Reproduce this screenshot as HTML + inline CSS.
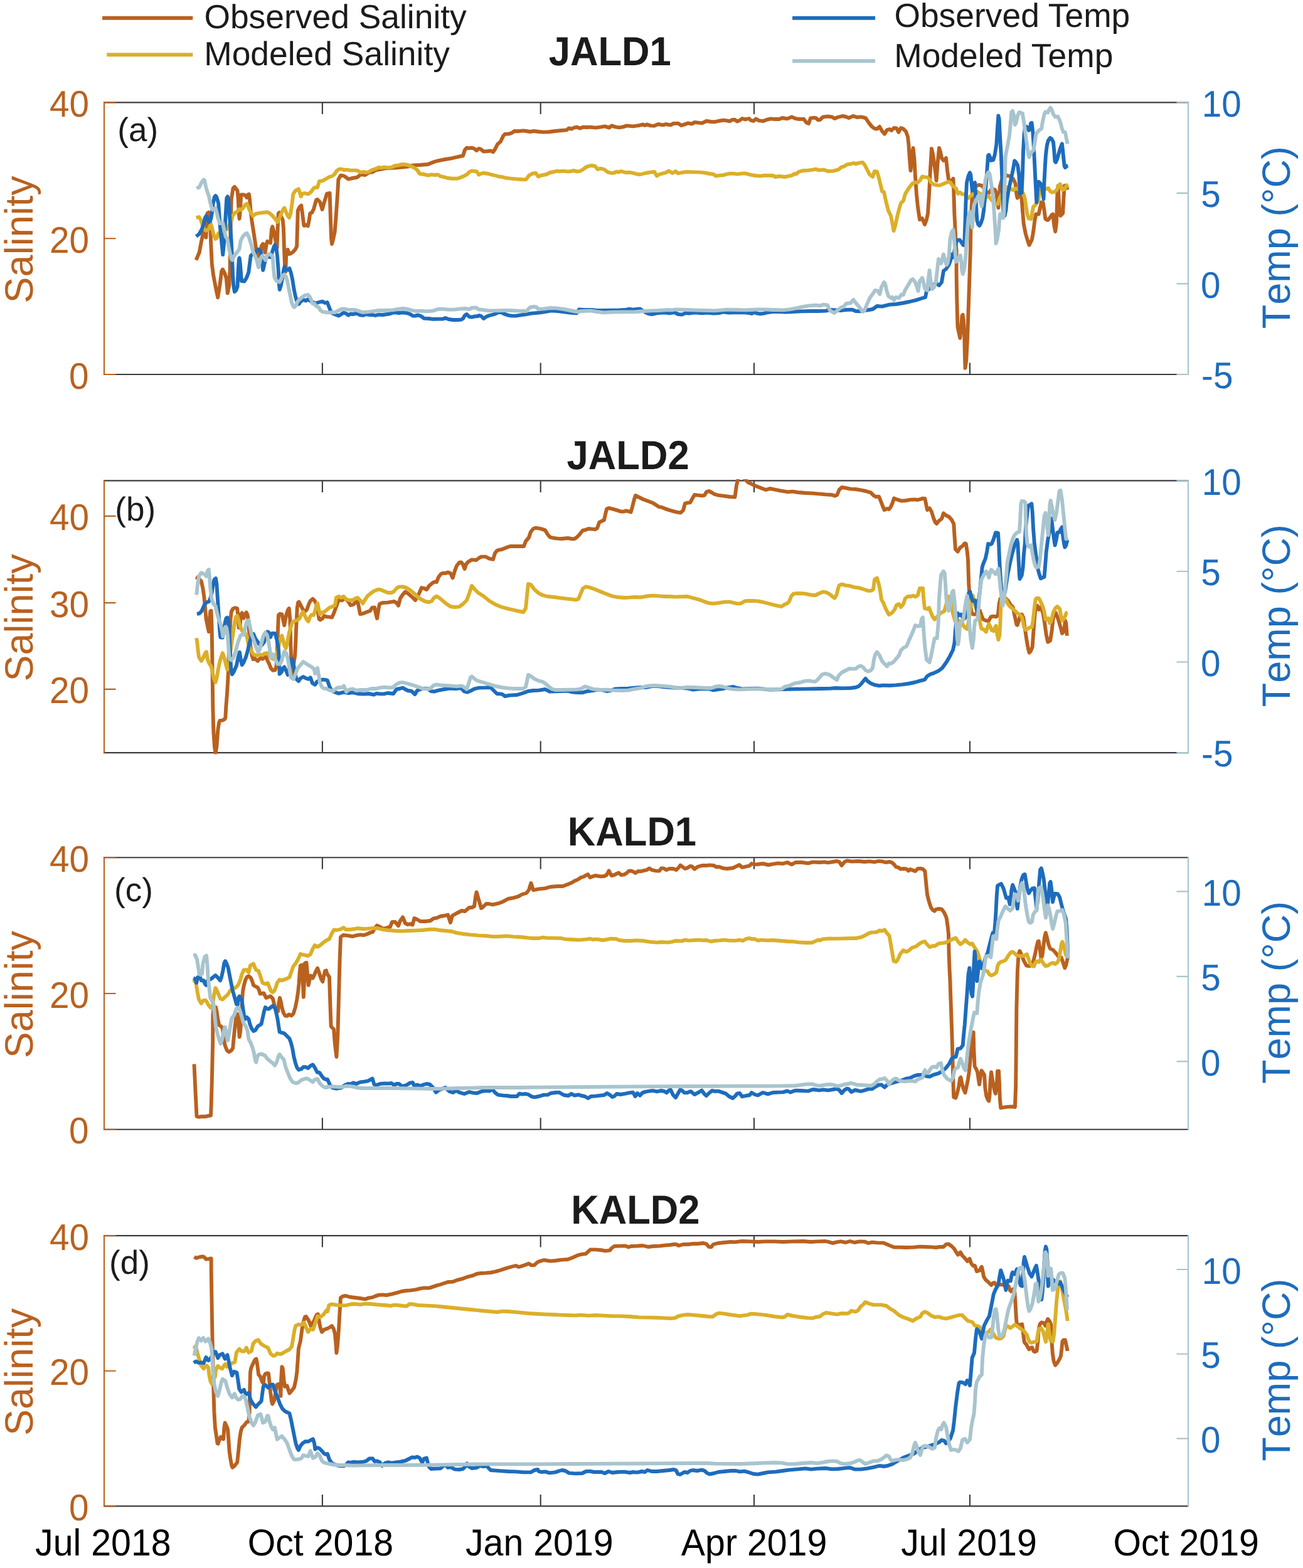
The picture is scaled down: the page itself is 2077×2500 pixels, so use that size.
<!DOCTYPE html>
<html lang="en"><head><meta charset="utf-8"><title>Observed and modeled salinity and temperature</title>
<style>html,body{margin:0;padding:0;background:#fff}svg{display:block}text{font-family:"Liberation Sans",Arial,Helvetica,sans-serif;font-variant-ligatures:none;text-rendering:geometricPrecision}.c{fill:none;stroke-width:5.9;stroke-linejoin:round;stroke-linecap:butt}.ax{fill:none;stroke-width:2.1;stroke-linecap:square}.tk{fill:none;stroke-width:2.1;stroke-linecap:butt}.lg{font-size:53.4px;font-weight:normal;font-kerning:normal}.tt{font-size:61.6px;font-weight:bold;font-kerning:none}.pl{font-size:53.0px;font-weight:normal;font-kerning:none}.tl{font-size:56.7px;font-weight:normal;font-kerning:none}.xl{font-size:57.3px;font-weight:normal;font-kerning:none}.yl{font-size:63.0px;font-weight:normal;font-kerning:none}</style></head><body>
<svg width="2077" height="2500" viewBox="0 0 2077 2500">
<rect width="2077" height="2500" fill="#fff"/>
<line x1="163.1" y1="28.7" x2="307.3" y2="28.7" stroke="#B9611F" stroke-width="5.9"/>
<line x1="170.2" y1="87.2" x2="307.3" y2="87.2" stroke="#DBAF28" stroke-width="5.9"/>
<line x1="1263.1" y1="28.7" x2="1395.0" y2="28.7" stroke="#1D6CBD" stroke-width="5.9"/>
<line x1="1263.1" y1="97.2" x2="1395.0" y2="97.2" stroke="#A8C4CE" stroke-width="5.9"/>
<g id="panel1">
<path class="ax" stroke="#3C3C3E" d="M166.0 163.4H1894.0 M166.0 597.0H1894.0"/>
<path class="tk" stroke="#3C3C3E" d="M513.9 163.4v18.5 M513.9 597.0v-18.5 M861.7 163.4v18.5 M861.7 597.0v-18.5 M1202.0 163.4v18.5 M1202.0 597.0v-18.5 M1546.0 163.4v18.5 M1546.0 597.0v-18.5"/>
<path class="ax" stroke="#B9611F" d="M166.0 163.4V597.0"/>
<path class="tk" stroke="#B9611F" d="M166.0 163.4h18.5 M166.0 380.2h18.5 M166.0 597.0h18.5"/>
<path class="ax" stroke="#A8C4CE" d="M1894.0 163.4V597.0"/>
<path class="tk" stroke="#A8C4CE" d="M1894.0 163.4h-18.5 M1894.0 307.9h-18.5 M1894.0 452.4h-18.5 M1894.0 597.0h-18.5"/>
<clipPath id="cp1"><rect x="165.0" y="161.0" width="1730.0" height="438.4"/></clipPath>
<polyline class="c" clip-path="url(#cp1)" stroke="#B9611F" points="312.6,414.7 317.8,402.1 321.2,383.8 323.5,373.5 325.8,368.9 328.4,378.6 330.4,340.2 332.7,338.5 335,347.1 336.1,386.1 337.8,420.5 340.1,438.8 343.6,457.1 347.2,474.3 350.4,454.8 353.3,431.9 355,429.6 358.5,436.5 360.7,443.4 362.8,467.4 365.3,454.8 366.5,431.9 367.6,363.2 368.8,317.3 371.6,300.1 373.9,297.8 378.5,304.1 379.7,317.3 380.8,340.2 381.6,348.8 383.1,334.5 384.2,310.4 388.3,310.4 391.7,312.1 393.4,315 394.2,311 396.8,309.5 398,317.3 399.7,337.9 401.4,351.7 403.2,363.2 406,381.5 408.9,401 411.2,409 414.6,403.3 416.9,391.8 419.2,388.9 421.5,397.5 422.6,402.7 424.9,388.4 426.1,384.9 428.4,386.1 431.2,387.2 433,365.4 434.3,361.4 436.4,368.9 439.3,383.8 441.5,395.2 442.7,363.2 443.8,340.2 445.3,338.9 447.9,344.8 450.7,350.5 451.9,363.2 453,397.5 454.2,429.6 455.3,433.1 456.1,409 456.8,398.7 458.7,398.1 460.5,405 462.8,404.4 467.3,401.5 470.8,397.5 473.1,393 474,363.2 474.8,335.6 477.7,329.9 480.2,327.6 481.7,337.9 483.4,351.7 484.5,359.7 486.2,359.7 488,358.6 490.8,360.3 492.6,351.7 494.3,340.2 497.1,339.1 500,333.4 504,319 506,318 510,322 513.6,334 517,322 521,309 525.6,308 527,350 528,380 529,389 531,382 533.6,370 536,340 538,310 539.4,286 543,279.6 548,280.4 552,283 555,285.6 562,284 568,283 571,281.6 575,278 582,279 588,275 594,274.4 599,271 606,270 614,268.4 630,267.6 642,266.6 650,265.6 658,263.6 670,263 682,262 692,258 698,256.4 710,254 720,252.4 730,250 738,248.4 741,239 744,235.6 748,236.4 752,235.6 756,237 759.6,240 763,237 766,237.6 771,241.6 778,241 782,240.4 786,242.4 789,238 793,230 798,225.6 802,217 805,213.6 810,213.6 815,212.4 820,209 826,209.2 834,208.4 839,209 845,210 851,209 859,210 867,210.6 875,210.2 885,209 895,208 903,207.4 907,204.4 911,205.6 915,203.6 919,202.6 925,204.6 929,202.6 935,203 941,202.6 949,203.6 957,202.6 964,201.4 971,203.6 975,200.4 981,202.4 987,203.4 993,202.4 999,200.4 1009,201.4 1019,200 1025,198.4 1028,200 1031,198.4 1037,200.4 1043,200.6 1049,198 1057,199.4 1061,198 1069,199.4 1073,197 1081,196.6 1086,200 1091,198.4 1097,196.4 1103,197.6 1107,195 1113,195.6 1119,196.4 1126,193 1133,194 1139,194.4 1145,193 1153,191.6 1159,192.4 1163,193.4 1167,191 1171,190.6 1175,193.6 1179,192 1183,189 1188,190.4 1194,189 1197,192 1201,193 1205,189.6 1210,192.4 1217,193 1223,190.6 1228,189.4 1236,190 1242,190 1247,188 1255,189.4 1262,186.4 1268,189 1274,190 1281,189.6 1285,195 1289,197 1292,188.4 1298,187.6 1301,188.4 1304,191.4 1307,191 1312,186.4 1320,185.6 1326,186.4 1330.4,189 1335,187 1343,185 1348,186 1353,188 1360,185 1366,187 1372,186.4 1377,187.4 1380,188.4 1385,196 1390,202 1394,205 1398,205.6 1402,202 1406,209 1410,213.6 1414,207 1418,206 1421,208 1425,204 1429,204.4 1432.4,211 1436,204 1440,205.6 1444,209.6 1447,218 1448.4,230 1450,254 1451.6,272 1453.6,250 1455.6,236 1457.6,256 1459,282 1461,310 1463,330 1466,350 1470,348 1474,358 1477,350 1479,340 1481,310 1483,270 1485,237 1487,246 1489,260 1491,274 1492.6,288 1494.6,260 1497,236 1499,242 1501,252 1504,256 1508,252 1510.1,272.2 1512,286 1515.8,289.8 1519.5,284.8 1520.2,303.7 1521.4,341.5 1523.3,379.3 1524.6,404.5 1524.6,397.8 1524.6,435.6 1525.2,473.5 1526.5,521.4 1528.4,530.2 1530.3,539 1532.1,523.9 1533.4,503.7 1534.7,501.8 1535.9,511.3 1537.2,534 1537.8,561.7 1538.5,586.9 1540.3,574.3 1542.2,536.5 1543.5,498.7 1544.8,460.9 1546,423 1546.9,397.8 1547.5,360.4 1548.8,328.9 1550.1,303.7 1553,297.4 1560.5,294.9 1565.6,296.1 1570.6,303.7 1575.6,308.7 1580.7,301.2 1585.7,302.4 1588.3,307.5 1590.1,322.6 1591.4,331.4 1592.7,316.3 1593.9,297.4 1597.1,286 1604.6,279.7 1609.7,281 1614.7,284.8 1618.5,292.3 1620.4,310 1621.7,315.7 1624.2,310 1628.6,316.3 1629.9,335.2 1631.7,356.6 1634.9,373 1638.7,385.6 1640.6,390.7 1645,381.8 1647.5,366.7 1649.4,351.6 1651.3,341.5 1655.7,341.5 1657.6,332.7 1660.1,322.6 1662.6,323.2 1664.5,335.2 1666.4,349.1 1670.2,351 1674,346.5 1676.5,342.8 1678.4,341.5 1680.3,359.2 1682.2,369.2 1684.1,354.1 1685.3,310 1686.6,296.1 1689.1,341.5 1690.4,344 1694.2,340.2 1695.4,316.3 1696.7,296.1 1699.2,295.5 1701.7,302.4"/>
<polyline class="c" clip-path="url(#cp1)" stroke="#DBAF28" points="312.6,347.1 317.2,346 320.1,350.5 322.3,357.4 324.6,364.3 328.1,367.7 330.4,367.2 333.2,364.3 335,359.7 336.4,358 338.4,365.4 340.7,374.6 343.6,380.9 345.8,379.2 348.1,372.3 355,367.7 361.9,365.4 365.9,357.4 368.8,351.7 370.5,344.8 373.4,340.2 377.9,337.4 381.4,333.4 383.7,334.5 387.1,332.2 390.5,327 393.4,324.8 396.3,331.1 399.7,339.1 403.2,344.2 407.7,340.8 414.6,339.7 420.3,338.9 426.1,338.2 429.5,339.7 434.1,343.7 438.7,349.4 442.7,354 445.6,347.1 449,339.1 451.3,333.9 453.4,331.6 455.9,337.9 458.7,344.2 461,347.1 463.3,340.2 465.6,324.2 467.3,309.3 470.8,304.1 475.9,301.3 477.4,305.8 479.7,313.3 482.2,308.7 485.7,308.1 491.4,309.3 496,305.8 500,300.1 502,299 506,299 509,289 514,288.4 520,285 525,282 529,281 533,278 537,272 541,269.6 545,269.6 548,271 552,270.6 559,271.6 566,271.6 570,272 575,275 579,274 584,275 588,274 593,271 599,269 604,267 608,267.6 612,266.6 620,267.4 626,266 630,264 635,263.6 639,262.4 644,262 650,263 656,265.4 661,268 665,271 669,277 676,278 683,279.6 687,278.4 694,279 698,278.4 702,281 708,282.4 714,284 722,284.8 730,284.6 734,283 739,281 744,278.4 748,274.4 752,272.4 756,273 760,273.4 763,278.6 768,276.4 772,276 778,277 784,278.6 790,280 796,281.6 800,282 806,283.6 814,284.6 822,285.4 830,286 836,286.4 839,285.6 843,280 848,277 854,276 858,281.4 863,279.6 871,278 877,275 883,274 888,272.6 892,273.4 896,272.6 903,273.4 908,273.4 915,272 919,273.4 924,273 929,270.4 935,266 940,264.4 944,264 948.6,265 952.6,270 957,268.6 963,270 969,274.6 975,276 979,275.6 982.6,273.6 986,274.6 990,273 997,275 1005,275 1011,276.4 1017,278 1021,278 1029,276 1037,274.6 1043,274 1047,280.4 1051,278 1061,275.4 1066,272.6 1072,276 1077,273 1081,276.4 1087,275 1095,274 1105,274.4 1115,274.6 1123,275.4 1131,277 1137,277.6 1141,280.6 1147,279.6 1153,279.2 1161,277 1169,276.6 1175,277.6 1183,276.6 1188,276.4 1196,278.6 1204,280 1212,280.6 1220,279.6 1232,280 1236,282 1242,281 1251,282 1258,280.6 1263,279.4 1266,277 1269,277.6 1273,274 1280,272 1288,271.6 1296,270.6 1300,269.6 1306,271.4 1313,270.6 1320,273 1328,272.6 1336,270.6 1342,266 1345,265.6 1350,262.4 1356,261.4 1361,260 1364,261.4 1370,259.6 1375,259 1378,262.4 1382,270 1386,278 1391,282 1394,273 1398,273.6 1401,284 1404,296 1406,305 1409,306 1412,320 1416,336 1420,344 1422.4,356 1424.6,368 1427,360 1430,346 1433,334 1436,324 1440,320 1443,309 1448,301 1454,293 1458,291 1463,291 1467,287 1470,281.4 1474,282.4 1478,282.6 1481,285 1484,291 1488,294 1492,295 1498,295.6 1504,293 1510,290.6 1511.3,289.8 1515.1,291.1 1518.9,296.7 1524,300.5 1527.1,308.7 1530.3,306.8 1533.4,309.4 1537.8,310 1542.9,316.3 1550.4,310 1556.7,304.9 1563,309.4 1570.6,315 1575.6,312.5 1580.7,318.8 1585.7,324.5 1590.8,325.1 1593.3,316.3 1598.3,306.2 1603.4,299.9 1607.2,298 1610.9,301.2 1614.7,303 1619.8,300.5 1626.1,302.4 1631.1,308.7 1633.6,316.3 1635.5,328.9 1637.4,341.5 1639.9,348.4 1643.7,349.1 1645,341.5 1646.9,330.2 1650.7,326.4 1655.1,320.1 1657,307.5 1658.9,302.4 1663.9,301.8 1667.7,301.2 1670.8,299.9 1674,304.9 1677.8,306.8 1681.5,305.6 1684.7,302.4 1687.2,296.1 1689.7,293.6 1691.6,297.4 1693.5,303 1696.7,301.8 1699.8,296.1 1703,294.9"/>
<polyline class="c" clip-path="url(#cp1)" stroke="#1D6CBD" points="312.6,376.9 317.2,373.5 321.8,365.4 324.6,357.4 326.9,347.1 328.7,344.2 331.5,350.5 333.2,354 336.1,349.4 337.8,340.2 339.5,325.3 341.8,314.4 343.6,312.1 345.3,314.4 348.1,323.6 349.3,340.2 351,363.2 352.7,380.3 354.4,397.5 355.2,406.1 356.7,391.8 358.5,363.2 360.2,334.5 361.3,316.2 362.8,313.3 364.2,317.3 365.3,334.5 367,357.4 368.8,386.1 369.9,409 371.1,437.7 372.2,454.8 373.9,465.2 376.2,462.9 378.5,457.1 379.7,431.9 380.8,413.6 381.6,411.3 382.8,420.5 384.2,437.7 385,448 389.4,448.5 392.8,443.4 396.3,434.2 398,420.5 399.7,407.9 402,405.6 405.4,404.4 410,399.3 412.3,397.5 415.8,401 416.9,406.7 418.1,420.5 419.2,430.8 421.5,420.5 423.8,412.4 426.1,409 430.7,410.1 433.5,403.3 436.4,394.1 438.1,390.7 440.4,395.2 442.1,409 443.8,431.9 445,454.8 445.8,461.7 447.9,454.8 450.1,443.4 451.9,431.9 453.6,425 456.4,429.6 458.7,430.2 461.4,427.9 463.9,435.4 466.2,445.7 468.5,460.6 470.8,472 473.1,480.1 476.5,484.6 478.8,481.2 483.4,477.8 487.4,479.5 490.8,477.2 494.8,480.1 500,482.3 502,484 508,482 514,480.6 518,483 521.6,482 524,488 527,496 530,499.6 536,502 540,503.6 544,501 547.6,498.6 552,500 555,502.6 559,500.4 562,501 569,499.6 574,502.4 579,502.8 583,501 590,502 594,502 598,503 604,501.6 610,502 620,500.6 628,498 636,499 642,498.4 650,499.4 654,501 658,503.6 662,503.6 666,502.4 671,504 676,507.6 684,508 690,508.8 700,508.6 706,508.6 710,507 715,509 722,510 730,510 735,509.6 738,508 741,503 744,501 748,505 752,505.6 757,504.4 760,504.4 764,503 767,504 771,508 775,505 780,503 788,501 794,498 799,498 805,501 810,502.6 816,503.6 822,503.6 830,502.4 839,501 847,499.6 859,498.6 869,497 879,495.4 889,496 899,497.4 909,498.6 919,499.4 923,493.4 931,494 943,494 951,495 963,495 975,494.6 987,494.4 997,494 1003,492.6 1009,493.6 1015,493 1020,492.4 1024,495 1029,498 1034,500.4 1039,501 1047,499.4 1055,498.6 1061,498.6 1067,499.4 1075,498 1081,501 1087,501.6 1093,499 1099,499.6 1107,498.4 1119,499.4 1127,498.6 1137,499.6 1147,499 1153,497.4 1161,498.6 1171,498.4 1179,498 1188,498.4 1194,499 1198,500 1202,498 1207,499.6 1212,500.4 1218,499.6 1224,498 1232,497 1242,497 1252,497.6 1264,497 1276,496.4 1292,496 1304,496 1316,495.6 1324,494 1332,494.4 1340,495 1348,494 1358,493.6 1364,496 1370,496.4 1378,495 1385,494 1391,493 1398,488 1406,488.6 1418,485.6 1428,485 1440,483 1450,481 1460,478.6 1468,476 1475,474 1477,464 1482,460 1488,454 1492,452 1497,455 1501,450 1504,432 1508,429 1512.6,421.8 1515.1,415.5 1517,405.4 1518.9,410.4 1520.8,404.1 1522.7,391.5 1525.2,383.1 1529.6,382.5 1532.1,385.6 1535.3,390.7 1537.2,391.3 1538.5,354.1 1539.7,316.3 1541,291.1 1543.5,281 1546,275.3 1547.3,278.5 1548.5,291.1 1549.8,303.7 1551.1,301.2 1552.3,292.3 1554,291.1 1554.8,303.7 1556.1,328.9 1557.4,351.6 1559.3,357.9 1561.4,359.8 1563.7,355.4 1566.2,347.8 1568.1,335.2 1570,316.3 1571.9,291.1 1573.8,265.9 1575,248.2 1576.3,246.9 1578.8,252 1579.4,255.8 1583.2,255.1 1585.7,246.9 1588.3,230.6 1590.1,202.8 1591.4,184.5 1592.7,190.2 1593.9,215.4 1595.8,246.9 1597.1,278.5 1598.3,316.3 1599.6,339 1601.5,344 1603.4,335.2 1604.6,322.6 1607.2,306.2 1610.9,288.6 1614.7,270.9 1617.2,256.4 1619.1,258.3 1622.3,264 1624.2,278.5 1625.4,297.4 1626.1,308.7 1628.6,307.5 1629.9,278.5 1631.1,240.6 1632.4,215.4 1633.6,205.3 1636.8,202.2 1639.9,207.9 1641.8,205.3 1643.1,196.5 1644.6,195.9 1646.2,209.1 1647.5,228 1648.8,253.3 1650,278.5 1651.3,303.7 1652.3,322.6 1653.8,303.7 1655.7,289.8 1658.2,292.3 1660.7,297.4 1662.6,310 1663.5,317.5 1664.5,291.1 1665.8,265.9 1667,246.9 1668.9,231.8 1670.8,224.3 1674,219.8 1676.5,221.7 1679,226.8 1680.3,240.6 1681.5,257 1682.8,258.9 1685.3,253.3 1687.8,244.4 1690.4,235.6 1692.9,229.3 1694.2,240.6 1695.4,253.3 1696.7,264.6 1697.9,267.1 1700.5,264.6 1702.3,264"/>
<polyline class="c" clip-path="url(#cp1)" stroke="#A8C4CE" points="313.2,300.1 317.8,298.4 321.2,290.9 324.6,286.6 326.1,287.5 328.1,297.8 330.4,305.8 332.7,311.6 334.4,319.6 336.7,328.8 339,334.5 343.6,332.2 345.3,337.9 347.6,348.3 350.4,356.3 355,355.1 356.7,363.2 359.6,376.9 362.5,381.5 364.2,391.8 366.5,403.3 368.8,412.4 370.5,414.7 373.4,407.9 377.9,402.1 381.4,397.5 383.7,383.8 387.1,376.9 391.7,372.3 393.4,371.7 396.3,376.9 398.6,383.8 400.9,391.8 403.2,401 406.6,407.9 408.9,413.6 410.6,420.5 412.1,426.2 413.5,420.5 415.2,412.4 418.1,407.9 420.3,410.1 423.2,414.7 425.5,407.9 427.8,405.3 431.8,406.1 434.7,409 435.8,426.2 437.5,442.2 441,448 445.6,449.7 447.9,445.7 450.1,439.9 453,437.7 455.9,441.1 458.2,449.1 460.5,460.6 462.8,472 465,482.3 467.3,488.1 469.1,489.8 471.9,486.9 474.2,481.2 477.1,477.8 481.1,474.3 485.7,470.9 490.8,470 493.7,473.2 496,477.8 497.7,483.5 500,484.6 501,484 504,488 508,490 511,495 514,497 520,498 526,498.4 534,498 540,495 544,493 548,492.4 554,493.6 566,494 572,496 578,498 586,497.4 594,496.4 604,495 614,495 626,494.4 634,493 642,492 650,493 656,494.6 662,496 670,495.6 680,496.4 690,495.6 698,493 706,492.6 714,493.6 724,493.6 734,492.4 742,492 748,493 752,491 759,490.4 763,493.4 770,494 778,495.4 790,495.4 802,495 814,495 826,495.6 839,496 845,490 851,489 855,489.4 858,493 867,492.4 877,491 887,491.4 899,493 909,495 919,497 929,496 941,495.4 951,497 963,498.4 975,497.6 991,497.4 1011,497.4 1027,496 1039,495.4 1051,495 1065,494 1071,494.4 1077,493.4 1095,494 1111,494.6 1127,495 1139,495.4 1151,494.4 1159,493.6 1175,494 1188,494.4 1198,494 1208,493.4 1218,493.4 1232,494 1248,494.4 1258,493.4 1268,491.6 1278,489.4 1288,487.6 1300,486.6 1308,487.4 1312,485.6 1319,486.4 1323,495 1330,499 1336,494 1341,490 1344,489.6 1349,484 1356,483 1360.4,478 1365,484 1370,490 1375,497 1378,495 1382,485 1387,474 1391,469 1395,463 1399,463.6 1402.4,469 1405,458 1409,450 1411,452 1413,462 1416,472 1420,475 1422,473.6 1425,478.6 1428,474 1433,475 1437,469.4 1440,470 1443,462 1448,454 1452,447 1455,445 1459,450 1462,459 1463.6,464 1466,448 1470,443 1472,450 1474,460 1478,463 1480,444 1481.6,431 1483.6,450 1485.6,461 1489,458 1492,448 1494,430 1496,413 1500,420 1504,405.4 1506,414 1509,422.4 1510.7,419.3 1512.6,407.9 1514.5,381.4 1517,370.1 1519.5,366.3 1520.8,378.9 1522.7,404.1 1524,417.4 1527.1,414.2 1529,409.2 1530.9,407.3 1532.1,416.7 1533.4,430.6 1534.7,436.9 1537.2,428.1 1539.1,410.4 1540.3,391.5 1541.6,372.6 1543.5,347.8 1546,337.7 1548.5,354.1 1549.8,362.9 1551.1,341.5 1552.3,327.6 1555.5,320.1 1559.3,312.5 1561.4,311.2 1563,322.6 1564.9,328.9 1566.8,316.3 1569.3,297.4 1571.2,284.8 1573.8,277.2 1575.6,274.7 1577.5,277.2 1578.8,284.8 1580.7,297.4 1583.2,316.3 1584.5,335.2 1585.7,354.1 1587,373 1587.6,388.1 1589.5,381.8 1592,366.7 1593.9,341.5 1597.1,340.2 1599,347.8 1600.2,341.5 1601.5,291.1 1602.7,249.5 1605.9,233.1 1609.1,215.4 1610.9,196.5 1612.2,178.9 1614.1,177 1616,183.9 1617.9,199 1619.8,195.3 1622.3,183.9 1624.8,178.9 1629.9,180.8 1632.4,196.5 1634.9,215.4 1637.4,234.3 1639.3,246.9 1640.6,250.7 1643.7,243.2 1647.5,239.4 1649.4,228 1651.3,214.2 1653.8,210.4 1657,207.2 1660.1,205.3 1662,194 1664.5,182.7 1666.4,178.2 1670.2,179.5 1672.1,175.1 1674.6,171.9 1676.5,175.1 1679,182 1682.2,186.4 1686,185.8 1687.8,189 1690.4,195.3 1692.9,205.3 1694.8,210.4 1697.9,211 1699.8,220.5 1701.7,229.3"/>
</g>
<g id="panel2">
<path class="ax" stroke="#3C3C3E" d="M166.0 766.4H1894.0 M166.0 1200.1H1894.0"/>
<path class="tk" stroke="#3C3C3E" d="M513.9 766.4v18.5 M513.9 1200.1v-18.5 M861.7 766.4v18.5 M861.7 1200.1v-18.5 M1202.0 766.4v18.5 M1202.0 1200.1v-18.5 M1546.0 766.4v18.5 M1546.0 1200.1v-18.5"/>
<path class="ax" stroke="#B9611F" d="M166.0 766.4V1200.1"/>
<path class="tk" stroke="#B9611F" d="M166.0 822.9h18.5 M166.0 961.1h18.5 M166.0 1098.9h18.5"/>
<path class="ax" stroke="#A8C4CE" d="M1894.0 766.4V1200.1"/>
<path class="tk" stroke="#A8C4CE" d="M1894.0 766.4h-18.5 M1894.0 911.0h-18.5 M1894.0 1055.5h-18.5 M1894.0 1200.1h-18.5"/>
<clipPath id="cp2"><rect x="165.0" y="764.0" width="1730.0" height="438.5"/></clipPath>
<polyline class="c" clip-path="url(#cp2)" stroke="#B9611F" points="312,920.2 316.4,922.1 320.8,926.5 323.3,937.8 325.2,950.4 327.1,969.3 328.4,985.7 330.9,998.3 332.8,1007.2 334,988.3 335.3,974.4 336.6,973.8 337.6,1000.9 338.2,1038.7 338.8,1089.1 339.3,1126.9 340.3,1164.8 341.9,1190 343.6,1200.7 345.4,1190 347.3,1164 349.2,1152.1 350.4,1149 354.2,1148.6 357.4,1147.1 359.3,1144.6 360.3,1126.9 361.8,1108 363,1089.1 363.9,1070.2 364.9,1038.7 366.2,1013.5 367.4,988.3 368.7,975.6 371.2,970.6 374.4,969.1 378.2,970 379.4,981.9 380.7,1000.9 382.6,999.6 383.8,980.7 385.7,977.2 388.3,985.7 390.1,980.7 392.7,976.3 394.6,980.7 396.1,990.8 397.1,1007.2 398.3,1019.8 399.6,1032.4 401.5,1045 403.6,1051.3 406.5,1050 408.4,1051.9 410.9,1053.8 413.5,1050.7 416,1048.8 418.5,1050.7 421,1048.8 424.2,1047.5 426.7,1053.8 429.2,1058.9 431.7,1065.2 434.9,1068.9 438.7,1068.3 440.6,1061.4 441.8,1038.7 443.1,1000.9 444,980.7 446.2,978.8 449.4,979.4 451.3,988.3 453.2,997.1 455.1,985.7 457,978.2 458.9,972.5 460.7,970 462.4,988.3 463.3,1026.1 464.5,1057.6 466.4,1076.5 468.3,1057.6 470.2,1045 471.2,1026.1 472.2,1000.9 473.7,969.3 475.2,960.5 476.5,959.5 479,964.3 482.2,970.6 485.3,975.6 489.1,971.9 492.3,963 494.8,958 498.6,954.8 501.7,958 504.2,963 506.8,975.6 508.6,987 510.5,988.3 514.3,985.7 516.8,981.9 520,983.2 524,983.6 529,984.4 532,978 536,967 540,956 545,957.4 550,954 555,959 559,965 563,964 567,960 570,959 572,968 574,979 578,978.4 584,976 590,974 593,969 597,968.4 599,978 601,986 603.6,970 605,963 610,961 618,960.6 624,959.6 628,959 632,961 635,965.6 638,954 642,948 646,943.6 650,946 656,951 662,957 666,950 669,944 672,937 676,938 680,940 684,934 690,929 693,927.6 696,928 699,920 703,915 707,913.6 710,914 714,912.4 718,914 721.6,921.4 725,910 728,902 732,897 735,896.4 738,900 740.6,907 743,899.6 746,896 752,892.4 759,893 763,890 767,887.6 774,887.6 780,890.6 786,892 789,882 792,878 796,876.6 800,876 806,873.6 813,871 820,871 830,871 835,871 838,863 843,857 846,848 850,843 854,841.6 859,842.4 864,843.6 869,845.4 873,852 876.6,856.4 883,858 889,858.6 895,859 905,858 911,859 915,859.4 919,857 923,853 929,845.6 933,845 938,843 945,843.6 949,844 952,842 955.4,832.6 959,831 963,829 965,820 967,811.6 971,810 977,811.6 983,813.4 990,815.6 994,815.6 998,814.4 1002,815.4 1005.6,816.4 1008,808 1011,796 1013,790 1019,793 1025,796 1033,799 1041,802 1047,806 1051,808.4 1054,808.6 1059,810.6 1067,813.4 1075,815.6 1081,817 1085,817.4 1089,813.6 1092,802.6 1096,801.6 1100,801.4 1103,796 1107,789 1113,789.6 1119,790.4 1123,789.6 1126,784.4 1130,783 1134,785 1139,788 1145,789.6 1153,790.6 1163,792 1171.4,792.6 1174,774 1177.4,760 1184.2,760 1191.8,768.6 1201.4,773.4 1214,778.4 1221,781 1227,779 1234,780.4 1244,782.4 1256,784.4 1263,783.6 1272,785 1284,786 1296,786.6 1308,787.6 1316,788.4 1326,789 1331,790.6 1334.4,789 1337.6,781 1342,777 1348,778 1356,779.6 1364,780 1372,781.4 1380,783 1388,785.4 1393,790.4 1396,792 1401,791.6 1404,799 1407,807 1409.6,813 1414,811 1417,812 1420,808 1423,801 1425,794.4 1430,796.4 1437,798.6 1444,798 1452,796.6 1458,796.4 1463,797 1468,795.6 1471,794.6 1474.4,795 1476,803 1478,813 1481.6,810.4 1485,816 1488,826 1491,833 1493,835 1496,831 1501,827 1501.3,826.5 1503.9,818.3 1507.7,821.5 1512.7,824 1517.1,829 1520.3,835.3 1521.5,854.3 1523,875.7 1526.6,879.5 1530.3,873.2 1534.1,870.6 1537.9,866.2 1539.8,866.9 1541.7,879.5 1543,892.1 1543.6,911 1544.2,929.9 1545.1,945 1546.1,955.1 1547.4,967.7 1548.6,975.8 1550.5,979 1554.3,979.6 1558.1,977.1 1561.9,973.3 1564.4,980.9 1566.9,987.2 1570.7,989.1 1575.7,990.3 1579.5,983.4 1583.3,982.7 1587.7,983.4 1590.9,980.9 1592.7,961.9 1594.6,954.4 1598.4,951.9 1603.5,954.4 1607.2,958.2 1611,964.5 1614.8,968.3 1616.7,978.3 1618.6,987.2 1620.5,996 1621.7,996.6 1623.6,990.9 1626.2,980.9 1628.7,979.6 1631.2,984.6 1632.5,993.5 1634.4,1006.1 1636.2,1018.7 1638.8,1033.8 1640.7,1040.7 1643.2,1037.6 1645.7,1031.3 1647,1012.4 1648.9,987.2 1650.7,968.3 1653.3,965.7 1655.8,972 1657.7,968.3 1660.2,970.8 1662.7,978.3 1665.2,993.5 1667.8,1012.4 1670.3,1023.7 1674.1,1021.2 1676.6,1006.1 1678.5,987.2 1680.4,979.6 1682.9,977.1 1685.4,983.4 1687.9,990.9 1690.5,999.8 1693,1009.9 1696.1,1006.1 1698,989.7 1699.3,993.5 1700.8,1013.6"/>
<polyline class="c" clip-path="url(#cp2)" stroke="#DBAF28" points="313.2,1017.2 314.5,1026.1 315.8,1038.7 317,1047.5 320.8,1053.8 324,1048.8 327.1,1041.2 329,1039.3 330.9,1051.3 333.4,1057.6 336.6,1062.6 338.5,1070.2 340.3,1080.3 343.5,1087.8 345.4,1081.5 347.3,1070.2 349.2,1060.1 351.7,1050 354.8,1041.2 357.4,1048.8 359.9,1058.9 362.4,1067.7 364.9,1061.4 368.1,1032.4 370,1019.8 371.9,1007.2 374.4,990.8 376.3,983.2 378.2,981.9 380.1,988.3 382.6,998.3 385.7,1005.3 388.3,1007.2 393.3,1013.5 395.8,1026.1 398.3,1033.6 400.9,1038.7 404.6,1043.7 409.7,1045 413.5,1043.7 418.5,1044.4 422.3,1041.8 426.1,1041.2 429.9,1046.2 433.6,1050 437.4,1051.3 442.5,1038.7 445,1026.1 447.5,1016 449.4,1013.5 451.3,1021 453.2,1028.6 455.7,1033.6 457.6,1026.1 459.5,1016 461.4,1007.2 463.9,998.3 466.4,992 470.2,989.5 474,988.9 477.8,985.7 480.9,978.2 483.4,975.6 486,981.9 489.1,988.3 491.6,990.8 494.2,983.2 496.7,980.1 499.8,980.7 501.7,975.6 503.6,968.1 506.1,961.8 508,970.6 509.9,979.4 513.1,976.9 516.8,975.6 520,973.1 525,969 530,967 534,965 536,953 540,951 544,953 547.6,951 551,955 556,957 562,957 566,954.4 570,953 574,957 578.4,962 582,956 586,950 591,946 596,942.4 602,940 606,940 612,942.4 618,945 624,945 628,943 632,938 636,935.6 642,935.4 648,937.4 654,941 660,946 666,952 672,956 678,959 684,960 688,958.4 692,953 695.6,950.6 700,953 706,958 712,963 718,967 724,968 732,967.4 738,963 744,957 748,946 752,934 757,940 762,945 770,950 780,958 790,964 800,968 810,970.6 822,973.4 834,976 838,970 840,950 842,931 846,932 852,940 859,946 865,949 873,951 883,952 893,953.4 903,954.6 913,955.6 918,956.4 922,955 925,948 929,938.4 933.4,935.4 939,936.4 947,939 959,944 973,949.6 983,952 995,953 1003,952.6 1011,952 1021,952.4 1029,951 1035,950 1043,949.6 1051,950.4 1059,951 1067,951 1077,951.6 1085,951.4 1096,951 1103,953 1113,955.6 1121,958.6 1129,961.4 1136,962.4 1143,961.6 1151,960.4 1157,959.6 1163,959.6 1169,961 1175,962.4 1180,962.4 1184,960.4 1187,958.4 1191,958 1199,958 1208,958.4 1216,960 1224,962 1234,964.6 1242,966.4 1246,967 1250,964 1255,962 1258,959 1261,951 1265,946.6 1272,946 1282,946.4 1290,948 1296,949 1300,949 1306,946 1312,943.6 1317,944.4 1323,947.6 1328,952 1330.4,953.6 1333.6,948 1336,938 1338,933 1342,931.6 1348,933.4 1354,934 1362,936.4 1370,937.4 1378,940 1384,942 1389,941.6 1392,940 1394,924 1398,921.6 1401,932 1403,942 1405,956 1408,961 1412,971 1417,980 1422,977 1426,972 1429,965 1433,963 1436,968 1440,963 1443,954 1447,951 1452,951 1456,949.6 1459,951.6 1463,949 1466,938 1471,938 1472.4,956 1474,970 1478,971 1481,969 1484,977 1487,984 1489.6,987.6 1494,983 1500,977 1505.1,974.6 1507.7,965.7 1510.2,955.6 1512.7,951.2 1515.2,958.2 1517.1,968.3 1519.6,980.9 1522.8,990.9 1527.8,989.7 1532.9,990.9 1535.4,997.2 1538.5,1001 1541.7,1002.9 1543.6,993.5 1546.1,974.6 1548,960.7 1550.5,949.3 1552.4,955.6 1554.3,965.7 1558.1,975.8 1560.6,980.9 1562.5,993.5 1564.4,1002.3 1568.2,1003.6 1571.9,1007.3 1573.8,1001 1576.4,994.7 1578.3,998.5 1580.8,1004.8 1583.9,1006.1 1586.4,999.8 1587.7,997.9 1589.6,1012.4 1591.5,1019.9 1593.4,1012.4 1594.4,993.5 1595.3,968.3 1596.5,955.6 1599.7,953.1 1603.5,955.6 1606,961.9 1609.8,967 1614.8,970.8 1621.1,977.1 1624.9,979.6 1628.7,983.4 1630.6,990.9 1632.5,999.8 1635,1004.2 1638.8,1002.3 1641.3,1000.4 1645.1,999.8 1647,987.2 1648.9,968.3 1650.7,955.6 1652.6,953.8 1655.8,953.8 1658.9,959.4 1662.1,967 1664.6,975.8 1666.5,987.2 1668.4,988.4 1670.9,985.9 1673.4,993.5 1675.3,990.9 1677.2,983.4 1679.1,975.8 1682.3,969.5 1685.4,967 1689.2,970.8 1691.1,980.9 1693,989.7 1695.5,987.2 1698,982.1 1699.9,977.1 1701.8,976.4"/>
<polyline class="c" clip-path="url(#cp2)" stroke="#1D6CBD" points="313.9,978.8 317.7,978.2 321.4,974.4 325.2,965.6 329,960.5 332.8,959.3 335.3,954.2 337.8,944.1 339.7,931.5 341.6,924 343.9,922.1 345.4,931.5 346.6,950.4 347.9,969.3 349.2,988.3 350.4,1007.2 351.4,1016 354.8,1016.6 356.7,1007.2 358.6,993.3 360.5,985.7 362.4,984.7 364.3,990.8 365.6,1013.5 366.8,1038.7 368.1,1063.9 370,1075.2 373.1,1070.2 376.9,1061.4 379.4,1048.8 381.9,1039.9 383.8,1051.3 385.7,1060.1 388.3,1056.3 392,1047.5 394.6,1038.7 397.1,1027.3 399.6,1018.5 402.1,1012.2 404,1010.9 407.2,1018.5 410.9,1023.6 413.5,1027.3 417.2,1028.6 421,1023.6 423.6,1013.5 426.1,1007.2 428,1007.8 431.1,1016 433.6,1009.7 438.7,1009.9 441.2,1019.8 443.7,1032.4 445,1051.3 445.6,1074.6 448.8,1071.5 451.3,1065.2 453.2,1063.3 455.7,1068.9 458.9,1075.9 461.4,1063.9 463.9,1051.3 465.8,1050.7 468.3,1061.4 470.2,1074 472.7,1082.8 475.9,1086 479,1081.5 483.4,1079 487.8,1081.5 491.6,1082.8 494.8,1080.3 497.9,1089.1 502.3,1091.6 505.5,1086.6 509.3,1085.3 514.3,1083.4 520,1084.1 522,1085 525,1094 528,1100 532,1103 540,1105.6 548,1103.6 556,1105 562,1104 570,1106 580,1106.6 588,1106 596,1107.6 600,1105.6 606,1106.4 612,1106.4 618,1105 627,1106 632,1099 637,1098 642,1096.6 646,1099 650,1101 656,1102 661.4,1107 665,1101 670,1099 676,1097.6 682,1098 687,1102 692,1102.6 700,1100.4 708,1099 716,1097.6 726,1098 735,1097 740,1102.4 745,1103.6 750,1101.6 756,1098.4 764,1096.6 774,1096.4 782,1096 787,1101 792,1106 800,1106.6 805,1110 812,1108.6 824,1108 834,1105 842,1102 850,1101 859,1100.6 869,1099 876,1102.6 883,1102.4 893,1102 905,1101.6 913,1103.6 919,1104 928,1104.4 935,1102.4 945,1101 953,1099.6 961,1100.4 967,1102 973,1101 981,1098.4 991,1098 1001,1097.6 1011,1096.6 1021,1096 1029,1096 1039,1094 1049,1094 1059,1095.4 1069,1096 1081,1097 1089,1097 1097,1097.6 1105,1099.6 1115,1098.4 1125,1098 1131,1098.4 1137,1100.4 1145,1099 1153,1098 1159,1096.4 1169,1095 1175,1097 1183,1098.4 1195,1098 1208,1097.6 1228,1099.6 1248,1099 1268,1098.6 1288,1098.4 1308,1098 1324,1097.6 1332,1097 1344,1097.4 1356,1097 1364,1096 1369,1094 1373,1090 1377,1085 1379.6,1082 1383,1086 1388,1089.6 1394,1092 1402,1093.4 1408,1092.6 1418,1093 1428,1092.4 1438,1091.4 1448,1090 1458,1088 1466,1085.6 1474,1083.6 1478,1078 1483,1075 1488,1073.4 1496,1069.6 1502,1065 1508.9,1055.2 1514,1046.4 1519,1036.3 1521.5,1025 1522.8,1006.1 1524.7,987.2 1526.6,977.7 1529.1,980.9 1531.6,979.6 1534.8,984.6 1537.9,985.9 1540.4,980.9 1542.3,961.9 1544.2,945.6 1546.1,943 1548,950.6 1550.5,958.2 1554.3,957.5 1556.2,965.7 1557.4,974.6 1561.9,942.5 1563.8,923.6 1565.6,904.7 1567.5,898.4 1570.7,890.8 1573.2,879.5 1575.1,866.9 1578.3,868.1 1580.8,866.9 1583.9,859.3 1587.1,849.2 1590.9,849.8 1592.1,866.9 1593.1,892.1 1594.6,917.3 1595.9,936.2 1597.8,948.8 1599.7,952.6 1602.2,942.5 1606,917.3 1609.8,898.4 1613.6,882 1617.3,869.4 1621.1,860.6 1622.4,866.9 1623.6,892.1 1624.9,917.3 1625.5,923 1628.7,917.3 1630.6,904.7 1631.8,885.8 1633.7,866.9 1635,841.6 1636.9,822.7 1638.8,806.3 1641.3,805.1 1644.4,803.2 1645.7,816.4 1647,841.6 1648.9,866.9 1651.4,885.8 1653.9,904.7 1656.4,914.8 1658.9,922.3 1664.6,919.8 1665.9,904.7 1667.8,879.5 1670.3,860.6 1672.8,847.9 1674.7,835.3 1676,826.5 1677.8,841.6 1679.7,856.8 1681.6,869.4 1683.5,861.8 1685.4,849.2 1688.6,848.6 1690.5,844.2 1693,840.4 1694.2,854.3 1696.1,866.9 1697.4,872.5 1699.3,869.4 1701.2,861.8 1702.4,860.6"/>
<polyline class="c" clip-path="url(#cp2)" stroke="#A8C4CE" points="313.2,948.5 315.1,931.5 317,918.9 320.8,913.2 325.2,915.1 329,918.9 330.9,910.1 332.8,908.2 334,918.9 335.3,937.8 337.2,954.2 340.3,963 343.5,966.2 345.4,975.6 348.5,987 351.7,995.8 354.2,1007.2 355.2,1014.7 357.4,1007.2 359.3,999.6 361.1,1000.9 363,1013.5 364.3,1032.4 365.6,1050 368.7,1052.5 371.9,1048.8 375.6,1038.7 379.4,1023.6 383.2,1013.5 386.4,1010.9 388.9,1012.2 390.8,1000.9 393.3,990.8 396.4,988.9 398.3,998.3 400.9,1010.9 404.6,1021 408.4,1032.4 411.6,1039.9 414.1,1034.9 417.2,1023.6 419.8,1013.5 422.9,1008.4 426.1,1013.5 428.6,1026.1 430.5,1038.7 431.7,1048.8 434.9,1043.1 438.7,1051.3 442.5,1058.9 446.2,1058.9 448.8,1053.8 451.3,1045 453.2,1038.7 456.3,1041.2 458.9,1051.3 461.4,1066.4 463.9,1080.3 467.7,1082.8 470.2,1076.5 474,1066.4 479,1060.1 483.4,1055.1 489.1,1058.9 495.4,1062.6 500.5,1066.4 502.3,1074 504.2,1068.9 506.1,1065.2 508,1076.5 509.9,1087.8 513.1,1095.4 516.8,1097.9 520,1097.9 524,1100 531,1102 534,1099 539,1096 545,1096.4 548,1093.6 550,1098 552,1103 556,1099.6 562,1098.4 568,1101 574,1100 584,1100 592,1098 600,1098 606,1096.4 614,1095.6 620,1096.4 626,1096 632,1091 637,1088.4 642,1088 650,1090 658,1092.4 666,1095 674,1098 682,1098.6 686,1097.6 691,1093 695,1091.4 702,1092.4 710,1093 720,1093.6 728,1094.4 736,1093.4 740,1096 744,1099 747,1090 750,1080 752,1078.6 755,1081 760,1085 770,1088 780,1091 790,1094 800,1096 810,1097.4 822,1098 834,1098 838,1095 840,1086 842,1076 846,1078 852,1082.4 859,1085.6 865,1087 870,1090.4 875,1095 880,1098.6 885,1100 895,1100 909,1099.6 919,1099.4 926,1098.4 930,1095.6 933.4,1094.6 938,1096.4 945,1098.6 955,1100 967,1099.6 979,1100.6 991,1101 1001,1100.6 1011,1098.6 1021,1097 1029,1094.4 1035,1093.4 1043,1093 1055,1093.6 1067,1094.6 1075,1096 1081,1097.4 1087,1097 1095,1095.6 1107,1096 1119,1096.6 1127,1097 1134,1097 1141,1094.6 1147,1094 1153,1095 1159,1097 1167,1098.6 1179,1099.4 1191,1098.6 1208,1098.4 1220,1098.6 1234,1099.4 1246,1098.6 1251,1095 1258,1093.4 1266,1089.6 1276,1088 1284,1085.6 1290,1085.4 1296,1086.6 1300,1086.6 1305,1082 1310,1075.6 1315,1074 1322,1075.6 1328,1080 1334,1084 1337,1077 1342,1072 1348,1069 1354,1066 1360,1066.4 1364,1066.4 1368,1063 1372,1061.6 1376,1064 1380,1069 1384,1070.4 1388,1069 1391,1065 1393,1052 1395,1044 1398,1039.6 1402,1045 1406,1054 1410,1058.4 1414,1062.4 1417,1057.6 1420,1058 1424,1055.6 1428,1051 1433,1045 1436,1037 1440,1033 1445,1030.4 1449,1021 1453,1012 1456,1005 1459,997 1463,998.4 1467,998 1469,987 1471,984.4 1472.4,1006 1474.4,1032 1477,1052 1481.6,1056 1485,1042 1488,1026 1489.6,1018 1493.6,1017.6 1495.7,993.5 1496.9,955.6 1498.8,930.4 1500.1,916.6 1503.9,910.9 1505.8,914 1507,930.4 1508.3,953.1 1510.2,968.3 1512.1,973.9 1514,968.3 1515.8,958.2 1517.7,944.3 1519.6,941.8 1521.3,955.6 1522.8,974.6 1524.7,999.8 1525.9,1018.7 1527.2,1027.5 1528.5,1018.7 1530.3,993.5 1533.5,990.9 1535.4,988.4 1537.3,974.6 1539.8,958.2 1541.7,950 1543,958.2 1544.2,980.9 1545.5,999.8 1547.4,1018.7 1549.9,1033.2 1551.8,1018.7 1553,999.8 1554.3,989.7 1558.1,987.2 1560,968.3 1561.9,943 1564.4,924.1 1568.2,916.6 1571.9,910.9 1574.5,915.3 1576.4,921 1578.3,912.8 1580.1,908.4 1583.3,911.5 1587.1,915.3 1589.6,910.3 1591.5,906.5 1592.7,917.8 1594.6,936.7 1596.5,953.1 1598.4,965.7 1600.3,957.6 1602.2,936.2 1604.1,917.3 1605.4,898.4 1607.9,885.8 1611,870.6 1614.2,859.3 1617.3,853 1621.1,849.2 1624.9,847.9 1626.2,829 1627.4,803.8 1628.7,798.8 1632.5,799.4 1634.4,801.3 1635,829 1636.2,854.3 1637.5,866.9 1640,871.9 1643.8,869.4 1645.1,879.5 1647.6,892.1 1650.1,902.2 1652,904.7 1655.8,903.4 1657.7,892.1 1660.2,866.9 1662.7,841.6 1664.6,822.7 1666.5,817.7 1668.4,829 1669.7,844.2 1670.9,853 1672.2,829 1673.4,803.8 1674.7,798.1 1676.6,807.6 1679.1,820.2 1681.6,829 1684.2,816.4 1686.7,797.5 1688.6,783 1690.5,781.8 1693,797.5 1695.5,822.7 1697.4,841.6 1699.3,859.3 1702.4,858"/>
</g>
<g id="panel3">
<path class="ax" stroke="#3C3C3E" d="M166.0 1367.2H1894.0 M166.0 1800.8H1894.0"/>
<path class="tk" stroke="#3C3C3E" d="M513.9 1367.2v18.5 M513.9 1800.8v-18.5 M861.7 1367.2v18.5 M861.7 1800.8v-18.5 M1202.0 1367.2v18.5 M1202.0 1800.8v-18.5 M1546.0 1367.2v18.5 M1546.0 1800.8v-18.5"/>
<path class="ax" stroke="#B9611F" d="M166.0 1367.2V1800.8"/>
<path class="tk" stroke="#B9611F" d="M166.0 1367.2h18.5 M166.0 1584.0h18.5 M166.0 1800.8h18.5"/>
<path class="ax" stroke="#A8C4CE" d="M1894.0 1367.2V1800.8"/>
<path class="tk" stroke="#A8C4CE" d="M1894.0 1421.4h-18.5 M1894.0 1556.9h-18.5 M1894.0 1692.4h-18.5"/>
<clipPath id="cp3"><rect x="165.0" y="1364.8" width="1730.0" height="438.4"/></clipPath>
<polyline class="c" clip-path="url(#cp3)" stroke="#B9611F" points="309.5,1696.5 311.6,1741.9 313.5,1779.9 316.8,1780.8 321.3,1780.1 327.2,1780.3 331.7,1779.2 336,1778.5 336.6,1764.3 337.7,1727 338.4,1697.2 339.2,1660 339.3,1618.7 340.6,1607.3 344.1,1606.1 345.4,1612.4 347.3,1625 349.2,1634.4 353,1637 354.8,1640.1 356.7,1656.5 358.6,1666.6 361.8,1674.8 364.9,1677.3 368.7,1674.8 371.2,1671 372.5,1656.5 374.4,1637.6 376.3,1622.5 378.8,1616.8 380.1,1631.3 381.7,1653.3 383.2,1643.9 384.5,1625 385.7,1599.8 387,1580.9 388.9,1570.8 391.4,1561.9 393.9,1557.5 396.4,1556.3 399.6,1558.8 402.1,1564.5 404,1570.8 407.2,1572.7 410.9,1574.6 412.8,1578.3 414.7,1584.6 417.9,1584 420.4,1583.4 422.9,1588.4 424.2,1590.9 427.3,1589.7 431.1,1588.4 434.9,1592.2 436.8,1599.8 438.7,1608.6 441.2,1613.6 443.1,1612.4 444.4,1599.8 445.9,1590.9 447.5,1596 449.4,1606.1 451.9,1614.9 454.4,1619.3 457.6,1619.9 460.7,1617.4 464.5,1619.3 467.7,1616.2 470.8,1606.1 473.3,1593.5 475.2,1580.9 476.5,1568.3 477.8,1549.3 479,1539.3 481.5,1538.6 482.6,1561.9 483.8,1589.7 485.1,1561.9 486,1535.5 488.5,1534.8 489.7,1549.3 491.6,1570.8 493.5,1561.9 495.4,1555.6 498.6,1559.4 501.1,1554.4 503.6,1548.1 506.1,1543.7 508.6,1550.6 511.8,1560.7 514.3,1565.1 516.2,1555.6 518.1,1548.1 520,1547.4 521,1552 525,1558 526,1590 527.6,1636 529,1638 532,1641 534,1666 536.4,1685 538.4,1650 540,1590 541.6,1530 543,1494 547,1491 554,1491.6 562,1493 567,1491.6 574,1490.4 580,1491 586,1489 590,1487 594,1486 598,1479 601,1475.6 606,1478 610,1480.6 616,1479.6 622,1477.6 625,1470 630,1470 635,1476 638,1468 642,1462.4 646,1472 650,1474 654,1473 657.6,1474.4 660.4,1464 665,1466 670,1469 678,1469 686,1468 691,1464.4 696,1463.6 702,1461 708,1460 714,1458.6 718,1471 721,1460 728,1456 736,1452 741,1453 748,1447 752,1447 756,1445 758,1430 759.6,1422.4 763,1434 767,1448 770,1446 775,1441 779,1441 785,1442.4 794,1440.4 802,1437.4 810,1433 818,1431.6 826,1429.4 832,1426 839,1424 843,1419 846.4,1408 850,1419 854,1418.4 859,1417.4 869,1416.4 877,1414 889,1413 897,1413 905,1410 911,1407.6 915,1405 921,1402.4 926,1399 930,1398 934,1395.6 937,1394 940.6,1399 944,1397.6 949,1396 957,1397.4 963,1397 967,1395 970.6,1388.4 974.6,1396 979,1395 986,1391.6 990,1395 995,1394.4 999,1392 1002,1389 1006,1388.4 1010,1390 1013,1392 1017,1389 1021,1389.4 1025,1388.4 1031,1387 1035,1384.4 1039,1387 1045,1388.4 1051,1388.6 1054,1384.4 1058,1384.4 1062,1387 1067,1385 1073,1385 1078,1387 1081,1384 1084.6,1379.6 1088,1382 1092,1385 1096,1383.6 1100,1381 1103,1381.4 1107,1385.6 1112,1382 1119,1380 1126,1380 1131,1379.4 1138,1380 1142,1382.4 1146,1382 1153,1384.4 1159,1385 1168,1384 1173,1381.6 1178.6,1379 1183,1383 1189,1381.6 1195,1380.4 1198,1377 1203,1378.4 1208,1378 1216,1377 1225,1379 1232,1377.6 1240,1376.4 1248,1377 1255,1375 1262,1378.4 1268,1375 1278,1375 1288,1376.4 1296,1374.4 1306,1375 1314,1374.4 1320,1375.4 1328,1374 1334,1373 1338,1374.4 1341.6,1380 1346,1374.4 1350,1372.4 1358,1373.6 1368,1373 1378,1374 1386,1373.4 1394,1374.4 1400,1373 1406,1373.4 1412,1375 1418,1374 1422,1375.4 1425,1378 1428,1382 1431,1382.6 1436,1385.6 1441,1385 1445,1385.6 1448,1388.4 1451,1386 1455,1387.6 1459,1389 1463,1385 1467,1384.6 1471,1385.6 1474.4,1389 1476,1406 1478,1426 1481,1438 1484,1447 1487,1451 1489.6,1452.6 1492.4,1449.6 1497,1449 1501,1449.6 1505,1455 1508.6,1463 1510.7,1477.2 1512,1489.8 1512.6,1521.3 1513.6,1546.5 1514.5,1563.9 1515.1,1582.8 1516.4,1620.6 1517.7,1658.5 1518.7,1696.3 1519.5,1727.8 1520.2,1749.2 1523.3,1750.5 1525.8,1742.9 1528.4,1731.6 1530.3,1719 1531.5,1717.7 1533.4,1727.8 1535.9,1736.6 1538.5,1742.3 1540.3,1734.1 1542.9,1721.5 1544.8,1708.9 1546.6,1690 1548.5,1664.8 1550.4,1648.4 1551.7,1645.9 1552.3,1671.1 1553.6,1700.1 1556.1,1704.5 1558,1708.9 1559.9,1721.5 1561.1,1729.1 1563,1715.2 1564.5,1707 1566.8,1710.2 1569.1,1713.9 1570.3,1734.1 1572.1,1746.7 1574.4,1753 1576.3,1755.5 1577.5,1746.7 1578.8,1721.5 1580.1,1709.5 1581.9,1721.5 1583.8,1731.6 1585.7,1740.4 1587,1743.6 1588.9,1727.8 1590.1,1707.6 1592,1707.6 1593,1727.8 1593.9,1753 1595.2,1766.3 1600.9,1765.4 1607.2,1764.6 1613.5,1764.4 1617.9,1765 1619.1,1734.1 1619.8,1671.1 1620.4,1608 1621.3,1570.2 1622,1546.5 1623.6,1521.3 1625.4,1516.2 1627.3,1520 1629.9,1526.3 1632.4,1532.6 1636.2,1539.6 1641.2,1540.2 1645,1538.9 1647.5,1531.4 1650,1521.3 1652.5,1508.7 1654.4,1501.1 1655.7,1500.5 1657.6,1512.5 1659.5,1527.6 1661.4,1523.8 1663.3,1508.7 1665.2,1493.6 1666.8,1487.2 1668.9,1494.8 1671.5,1506.2 1674,1512.5 1678.4,1514.4 1682.8,1519.4 1687.2,1525.1 1691.6,1526.3 1694.2,1533.9 1697.3,1543.3 1699.2,1538.9 1701.7,1527.6"/>
<polyline class="c" clip-path="url(#cp3)" stroke="#DBAF28" points="308.8,1561.9 312.6,1568.3 314.5,1580.9 317,1593.5 320.8,1599.8 324,1595.4 327.1,1594.7 329.6,1597.2 332.1,1602.3 335.9,1606.7 338.5,1606.1 341,1587.2 343.5,1575.2 346,1579.6 348.5,1585.9 351.1,1592.2 354.8,1593.5 358.6,1589.7 363,1585.9 366.8,1579.6 370.6,1576.4 375.6,1574.6 379.4,1570.8 383.2,1561.9 385.7,1553.1 388.3,1546.8 393.3,1546.2 396.4,1550.6 399,1539.3 404,1536.7 406.5,1543 408.4,1546.8 412.2,1548.1 414.7,1555.6 418.5,1567 422.9,1568.9 426.7,1567.6 429.2,1573.3 431.7,1579.6 434.3,1582.1 437.4,1579.6 439.9,1573.3 441.8,1567 445.6,1561.9 448.8,1563.2 453.2,1561.9 457.6,1560.1 461.4,1558.2 464.5,1549.3 467.7,1540.5 470.8,1536.7 474.6,1530.4 479,1521 482.8,1522.2 486.6,1522.9 491,1524.1 494.8,1521.6 497.9,1514 501.7,1507.1 506.1,1509.6 510.5,1507.1 515.6,1502.7 520,1499.5 525,1497 529,1488 532.4,1482.4 537,1483 543,1481.6 547.6,1479 551,1482 558,1482 566,1481 570,1480 578,1481 586,1480.6 594,1480 602,1480 610,1482 618,1483 630,1484 640,1484.6 650,1484 662,1483.6 674,1483 682,1482 692,1481.6 700,1483 710,1484 720,1485 728,1487.4 738,1489 750,1490.4 762,1491.4 774,1492 786,1493.4 798,1493 808,1492.4 818,1493.4 830,1494 842,1495.4 850,1496 859,1496 865,1494.6 873,1495.6 883,1495.6 895,1496 901,1497.4 911,1498 923,1498.6 935,1497.6 940,1496.6 945,1498 951,1497.4 961,1499 967,1498 973,1496.6 982,1497 987,1499 995,1500 1005,1500 1015,1499.4 1025,1500 1035,1501.6 1047,1502.6 1055,1502 1065,1502.6 1071,1501.6 1077,1500 1087,1500.4 1092,1498.6 1098,1499.6 1107,1499 1115,1498.6 1121,1499.4 1126,1499 1133,1501 1139,1500 1147,1499.4 1155,1498.6 1163,1499.6 1173,1499.6 1179,1498.6 1184,1500 1190,1496.6 1195,1496 1199,1497.4 1203,1497 1208,1499.6 1214,1498.6 1222,1499.4 1232,1499 1244,1500 1256,1501 1266,1501.4 1272,1502.4 1284,1503 1294,1503 1299,1501 1303.6,1498.6 1307,1499.4 1311,1497.4 1322,1496.4 1332,1496.6 1344,1496.4 1356,1496 1364,1496 1372,1494.4 1378,1492 1384,1488.4 1389,1486.6 1394,1486.4 1398,1486 1402,1483.4 1406,1484.4 1410,1482.4 1414,1488 1417.6,1492 1420,1506 1422.4,1520 1424.4,1532 1428,1533.6 1431,1530 1435,1521 1440,1515 1444,1517.6 1448,1516 1454,1511 1460,1509 1466,1504.4 1470,1502 1474,1501 1478,1506 1482,1510 1487,1508 1490,1508.6 1496,1504.4 1502,1503.6 1506.3,1503 1512.6,1500.5 1518.9,1497.3 1523.3,1495.4 1527.1,1501.1 1530.9,1505.5 1535.3,1502.4 1538.5,1498.6 1542.2,1502.4 1546.6,1505.5 1549.8,1504.3 1553,1509.9 1557.4,1516.2 1560.5,1525.1 1563,1533.9 1565.6,1540.2 1568.7,1546.5 1574.4,1549 1576.9,1553.4 1580.1,1555.3 1584.5,1553.4 1588.3,1550.3 1590.1,1540.2 1592,1536.4 1595.8,1533.3 1599.6,1532.6 1603.4,1530.1 1607.2,1523.8 1610.9,1518.8 1614.1,1517.5 1617.2,1520 1621,1523.2 1626.1,1524.4 1632.4,1523.8 1636.8,1521.3 1638.7,1526.3 1641.2,1533.9 1644.4,1539.6 1648.1,1540.8 1650.7,1533.9 1653.2,1532.6 1655.7,1533.9 1657.6,1530.7 1659.5,1529.9 1662.6,1535.2 1666.4,1540.2 1670.2,1539.6 1674.6,1536.4 1678.4,1535.2 1682.2,1537 1686,1533.9 1688.5,1527.6 1690.4,1515 1692.3,1503.6 1693.5,1501.7 1696,1508.7 1698.6,1521.3 1701.7,1526.3"/>
<polyline class="c" clip-path="url(#cp3)" stroke="#1D6CBD" points="308.2,1559.4 311.3,1560.7 313.2,1567 315.1,1558.2 318.9,1557.5 320.8,1563.2 324.6,1563.2 326.5,1568.3 328.4,1570.8 330.9,1563.2 336.6,1560.7 340.3,1557.5 343.5,1555 347.3,1558.8 351.1,1563.2 353,1558.2 355.5,1546.8 357.4,1535.5 359,1532.3 361.1,1536.1 363.7,1543 365.6,1553.1 368.1,1565.7 370.6,1578.3 373.8,1589.7 376.9,1601 378.8,1601.7 380.1,1590.9 381.7,1588.4 383.8,1591.6 385.7,1596 387.6,1609.9 389.5,1622.5 390.8,1625 393.3,1621.8 396.4,1625 398.3,1632.5 400.9,1639.5 404,1643.9 407.2,1642.6 410.9,1636.3 414.1,1634.4 416.6,1632.5 419.1,1621.2 421,1612.4 422.9,1606.1 426.1,1608.6 428.6,1608.6 431.7,1606.1 434.9,1603.6 438.7,1607.3 440.6,1616.2 442.5,1625 444.4,1637.6 445.6,1645.2 448.8,1646.4 453.2,1647.7 457,1651.5 461.4,1655.9 463.9,1662.8 466.4,1672.9 468.3,1684.2 470.8,1694.3 473.3,1701.9 475.9,1705.7 480.3,1704.4 483.4,1701.3 487.2,1701.3 491,1703.1 494.8,1699.4 498.6,1697.5 501.7,1701.9 505.5,1709.5 509.3,1710.1 513.1,1715.8 516.2,1719.5 520,1721.4 522,1721 526,1730 530,1734.4 536,1735.6 544,1734.4 550,1730 555,1728 559,1728.6 563,1726.4 568,1728 574,1725.4 580,1724.6 586,1723.6 590,1721.6 593.6,1719.6 596.4,1729 600,1730 606,1728 614,1727.4 620,1727.6 624,1727 628,1730 632,1728 636,1728 641,1732 648,1730 654,1726.4 658,1726 660,1731 665,1729.6 670,1731.6 676,1729 680,1728 685,1729 690,1733.6 695,1741.6 700,1737.6 706,1735.6 710,1734 716,1740 722,1742 727,1739 732,1741.6 740,1744 748,1741 754,1742.4 760,1743 768,1740 776,1739 780,1739.6 785,1737 789,1742 794,1745.6 802,1746.6 808,1747 814,1748 824,1748 828,1743.6 832,1744.6 838,1744 842,1745 848,1748.6 852,1749.4 859,1748 867,1745.6 873,1745.6 878,1743 885,1742 891,1741.6 899,1746 906,1747 910.6,1744 916,1746.6 922,1745.4 927,1747 932,1748 937.4,1751 942,1748 949,1747.6 957,1746.6 963,1746 967.6,1743 972,1745.6 976,1749 979,1748 983,1744 989,1745 997,1743.6 1003,1742.4 1009,1741.6 1012.6,1748 1016,1743 1020,1746.6 1024,1742.4 1029,1740.6 1035,1739.6 1041,1739 1047,1740.4 1054,1739 1059,1740 1062.6,1742.4 1066,1738.6 1069,1737.6 1073,1746 1077,1750 1081,1743 1084,1737.6 1087,1738.6 1091,1742.4 1096,1742 1101,1740 1107,1745 1113,1742 1118.6,1738.6 1123,1744.4 1126,1747 1130,1743 1135,1739 1140,1740 1145,1739.6 1151,1741.6 1157,1743.6 1162,1748 1168,1751 1172,1747.6 1175,1743.6 1179,1743 1183,1748.4 1189,1747 1195,1746 1198,1742 1203,1745 1208,1746.4 1216,1742 1224,1744.4 1232,1742 1240,1741.6 1248,1741.4 1255,1739.4 1260,1741.6 1268,1738.6 1278,1739 1288,1739.6 1296,1737 1306,1738.4 1312,1737.4 1320,1738.4 1328,1737 1334,1736 1338,1738 1341.6,1743 1346,1738 1350,1735.6 1353,1736.4 1357,1741 1363,1738 1368,1739 1372,1740 1378,1738.4 1384,1736.4 1390,1736.4 1396,1732.4 1401,1729.6 1405,1729.4 1410,1733.6 1415,1729 1420,1727.4 1428,1725 1436,1723 1444,1720 1451,1718.6 1456,1716 1462,1714 1470,1713.6 1477,1716 1482,1716.6 1488,1713.6 1496,1711.4 1502,1708 1508,1702.6 1513,1696 1517,1688 1520,1685.6 1523.6,1685 1524.6,1681.2 1526.5,1672.3 1530.9,1671.7 1534.7,1666.7 1535.9,1652.2 1537.8,1633.3 1539.7,1608 1541.6,1582.8 1543.1,1560.1 1543.7,1552.8 1545.4,1543.3 1546.6,1559.1 1548.5,1584.3 1550.1,1588.7 1551.1,1571.7 1552.3,1540.2 1553.6,1516.9 1554.8,1527.6 1556.1,1546.5 1557.4,1564.2 1559.3,1546.5 1561.1,1532.6 1563,1537.7 1564.9,1544 1567.4,1538.9 1570.6,1527.6 1574.4,1518.8 1576.9,1508.7 1580.7,1493.6 1582.6,1487.2 1585.1,1486 1586.4,1470.9 1587.6,1451.9 1588.9,1426.7 1590.1,1412.2 1593.3,1410.3 1595.8,1409.1 1599.6,1416.6 1602.1,1425.5 1604,1431.8 1607.2,1431.1 1609.7,1441.9 1610.9,1433 1612.2,1420.4 1614.1,1411 1616,1415.4 1619.1,1423 1620.4,1439.3 1621.7,1448.8 1623.6,1433 1626.1,1414.1 1628.6,1401.5 1631.1,1395.2 1633.6,1394 1635.5,1405.3 1637.4,1416.6 1639.9,1424.2 1643.1,1419.2 1645.6,1416.6 1648.8,1416 1650.7,1433 1652.5,1448.2 1654.4,1433 1656.3,1407.8 1658.2,1386.4 1659.9,1384.5 1662,1392.7 1663.9,1402.8 1665.8,1420.4 1667.7,1438.1 1669.6,1445.6 1671.5,1426.7 1673.3,1407.8 1674.6,1405.9 1676.5,1420.4 1678,1438.1 1679.7,1430.5 1681.5,1424.8 1686,1425.2 1689.1,1430.5 1691.6,1440.6 1694.2,1450.7 1696.7,1458.3 1699.2,1465.8 1700.5,1483.5 1701.7,1508.7 1702.3,1527.6"/>
<polyline class="c" clip-path="url(#cp3)" stroke="#A8C4CE" points="308.2,1523.5 311.3,1522.9 313.9,1529.2 315.8,1540.5 317.7,1553.1 320.2,1554.4 322.1,1552.5 323.3,1536.7 326.5,1525.4 329,1523.5 330.3,1536.7 331.5,1555.6 333.4,1574.6 335.3,1590.9 337.8,1596 340.3,1599.8 342.2,1618.7 344.1,1637.6 347.3,1650.2 349.8,1659 351.7,1664.1 354.2,1656.5 356.7,1643.9 358.6,1637.6 359.9,1642.6 361.8,1655.2 363,1659 364.9,1650.2 366.8,1637.6 369.3,1623.7 373.1,1618.7 375.6,1611.1 377.5,1607.3 380.7,1606.7 383.2,1613.6 385.7,1622.5 388.3,1631.3 392,1636.3 394.6,1643.9 396.4,1656.5 399.6,1662.8 402.1,1669.1 404.6,1677.9 407.2,1691.8 408.4,1693.7 410.3,1684.2 412.8,1681.1 417.2,1680.5 422.3,1683 426.1,1688 431.1,1692.4 434.9,1695 438,1698.7 441.2,1693.1 443.7,1684.2 445.6,1681.1 448.8,1685.5 452.5,1689.3 455.1,1700.6 458.9,1710.7 462.6,1719.5 466.4,1725.2 471.5,1727.1 475.9,1725.8 480.3,1722.1 485.3,1720.2 489.1,1719.5 492.9,1721.4 498.6,1725.2 501.7,1721.4 506.1,1720.2 509.3,1726.5 513.1,1730.9 516.8,1733.4 520,1734 522,1733 530,1732.4 540,1733 546,1733 552,1731.6 560,1732 568,1734 576,1735 590,1735 610,1735 630,1735 650,1735.4 670,1735.6 690,1736 710,1735.6 730,1735 750,1734.6 770,1734 790,1734 810,1734 830,1734 850,1733.6 859,1733.6 939,1733 1019,1732.4 1099,1732 1179,1731.6 1208,1731.6 1228,1731.6 1248,1731.4 1268,1731 1278,1729.6 1288,1728.4 1295,1728.6 1302,1730.6 1308,1731 1316,1729.4 1323,1729 1328,1729.6 1334,1731.6 1340,1731 1346,1729 1352,1728 1357,1727 1361,1728 1366,1729.6 1374,1730 1382,1730.6 1389,1731 1394,1728 1398,1724 1402,1721 1406,1720.4 1410,1719 1414,1723 1417,1729 1420,1725 1424,1721 1428,1719.4 1432,1722 1436,1723.6 1442,1724.4 1448,1723.6 1454,1723.4 1459,1724.4 1463,1721 1468,1719 1471,1717.6 1472.4,1710 1474.4,1706 1477,1711 1480,1710 1484,1703 1487,1701 1490,1700.6 1493,1702 1496,1696 1500,1695 1502,1706 1505,1714 1510,1720 1516,1723.4 1519,1718 1521.6,1706 1524,1703 1527,1702 1529,1694 1531,1688 1533.6,1694 1536,1702 1539,1706.6 1540.3,1696.3 1542.2,1677.4 1544.8,1658.5 1547.9,1639.6 1550.4,1626.9 1553,1614.3 1557.4,1615.6 1558.6,1598 1560.5,1580.3 1563,1566.4 1566.8,1555.1 1569.3,1540.2 1571.2,1525.1 1575,1523.8 1579.4,1526.3 1581.3,1508.7 1583.2,1492.9 1585.7,1492.3 1588.3,1497.3 1589.5,1483.5 1591.4,1468.3 1595.2,1460.8 1599.6,1450.7 1602.7,1445 1606.5,1448.8 1610.3,1451.9 1614.1,1448.2 1616,1433 1617.9,1426.1 1621,1426.7 1622.9,1436.2 1624.8,1423 1627.3,1411.6 1629.2,1407.8 1631.1,1414.1 1633,1426.7 1634.9,1443.1 1637.4,1458.3 1639.9,1469.6 1642.5,1471.5 1645,1469.6 1646.9,1458.3 1650,1453.2 1652.5,1451.9 1653.8,1433 1655.1,1416.6 1659.5,1414.1 1661.4,1423 1663.3,1435.6 1665.2,1451.9 1667,1463.3 1668.9,1451.9 1670.2,1443.1 1672.1,1448.2 1674.6,1460.8 1676.5,1473.4 1678.1,1480.9 1680.3,1473.4 1682.8,1462 1685.3,1453.2 1689.1,1452.6 1693.5,1450.7 1696,1458.3 1698.6,1470.9 1699.8,1489.8 1701.1,1508.7 1702.3,1527.6"/>
</g>
<g id="panel4">
<path class="ax" stroke="#3C3C3E" d="M166.0 1970.1H1894.0 M166.0 2401.4H1894.0"/>
<path class="tk" stroke="#3C3C3E" d="M513.9 1970.1v18.5 M513.9 2401.4v-18.5 M861.7 1970.1v18.5 M861.7 2401.4v-18.5 M1202.0 1970.1v18.5 M1202.0 2401.4v-18.5 M1546.0 1970.1v18.5 M1546.0 2401.4v-18.5"/>
<path class="ax" stroke="#B9611F" d="M166.0 1970.1V2401.4"/>
<path class="tk" stroke="#B9611F" d="M166.0 1970.1h18.5 M166.0 2185.75h18.5 M166.0 2401.4h18.5"/>
<path class="ax" stroke="#A8C4CE" d="M1894.0 1970.1V2401.4"/>
<path class="tk" stroke="#A8C4CE" d="M1894.0 2024.0h-18.5 M1894.0 2158.8h-18.5 M1894.0 2293.6h-18.5"/>
<clipPath id="cp4"><rect x="165.0" y="1967.7" width="1730.0" height="436.1"/></clipPath>
<polyline class="c" clip-path="url(#cp4)" stroke="#B9611F" points="309.5,2004 312.6,2005.8 318.9,2004 323.3,2003.3 325.8,2004.6 328.4,2007.7 332.8,2007.1 336.6,2006.5 336.8,2030.4 337.6,2080.9 338.5,2131.3 339.3,2169.1 339.7,2181.5 340.3,2213 341.4,2250.9 342.9,2276.1 344.8,2288.7 346.6,2301.3 347.7,2301.9 349.8,2295 351.7,2291.2 354.2,2293.7 356.1,2294.4 357.4,2276.1 358.6,2268.5 360.5,2272.3 363,2278.6 364.3,2295 365.6,2313.9 367.4,2326.5 369.3,2336.6 370.6,2339.7 374.4,2336.6 378.2,2331.5 380.1,2313.9 381.9,2295 383.8,2282.4 385.7,2276.1 389.5,2272.3 393.3,2267.2 396.4,2266.6 397.7,2250.9 398.3,2213 399,2187.8 400.2,2181.5 403.4,2174 406.5,2167.7 408.4,2166.6 409.7,2172.9 410.9,2181.7 412.2,2191.8 414.7,2194.3 417.9,2203.1 419.8,2205.7 421,2194.3 422.9,2190.5 426.1,2189.3 428,2189.9 429.2,2200.6 431.1,2219.5 433,2234.7 434.3,2238.4 437.4,2232.1 439.3,2219.5 441.2,2208.2 443.7,2206.9 446.2,2210.7 447.5,2225.8 448.1,2200.6 449.4,2179.2 450.7,2181.7 452.5,2200.6 454.1,2210.7 457.6,2209.5 459.5,2215.8 461.4,2221.4 465.2,2217 468.9,2212 471.5,2200.6 473.3,2188 474.6,2169.1 475.9,2150.2 479,2137.6 481.5,2118.7 484.1,2106.1 486,2099.8 487.8,2099.1 491,2103.6 493.5,2108.6 495.2,2113.6 497.9,2109.9 500.5,2106.1 503,2099.8 504.9,2096 506.8,2095.4 508.6,2106.1 510.5,2116.2 513.1,2123.7 516.8,2119.9 520,2118.7 521,2118.6 526,2116 529,2114 532,2119 534,2127 535.6,2145 536.4,2157 538,2145 540,2119 541.6,2091 543,2069 547,2066.6 551,2066 558,2068 566,2069 574,2070 582,2071.4 588,2069.4 594,2068.4 598,2066.6 604,2064.6 610,2064.4 616,2065 624,2063.4 632,2061.4 640,2059 646,2058 654,2057.4 662,2056.4 670,2054.4 676,2053.4 684,2053.6 690,2051.6 696,2049.6 702,2048 708,2046 714,2044 722,2043.6 730,2040.6 738,2038.6 746,2035.6 754,2033.6 760,2031 766,2030 774,2029.6 782,2029 790,2027.4 798,2025 806,2022.4 814,2020 822,2018 827,2020 832,2018.6 838,2016.4 843,2014.6 847,2017.4 852,2017 856,2013 859,2011.4 867,2009 877,2010.6 885,2010 895,2008.6 905,2008 913,2005 921,2001.4 928,1999.6 934,1999 937,1996 941,1992.4 949,1992.4 957,1993 965,1994.4 972,1993.6 975,1990 979,1987 987,1986.6 997,1986.4 1001.4,1988.4 1006,1987 1015,1986.6 1025,1986 1033,1988 1041,1987 1051,1986.6 1059,1985.6 1067,1985 1074,1984 1078,1984 1082,1986 1089,1984 1097,1984 1105,1983 1113,1983 1121,1982 1126,1983.4 1130,1988 1134,1988 1137,1984 1145,1982 1155,1981 1165,1980 1171,1980.4 1183,1979 1195,1979.4 1208,1980 1220,1979.4 1234,1979.4 1248,1980 1264,1979.4 1280,1979 1292,1980 1304,1979.4 1316,1979 1322,1980.4 1327,1982 1334,1980.4 1340,1979.4 1348,1981 1355,1979 1362,1981 1370,1979.4 1378,1979.6 1384,1982 1390,1980.6 1398,1981.4 1408,1981.6 1414,1984 1420,1986.6 1425,1988.6 1434,1988.6 1444,1989 1456,1988.6 1466,1987.6 1476,1988 1486,1988.4 1492,1989 1498,1988 1504,1988 1508,1984 1512,1983.4 1517,1987 1521,1991 1524,1996 1527,2000.6 1531,1996.6 1534,2002 1538,2006 1542,2011 1545.6,2007 1548,2014 1551,2018 1554,2018 1557,2027 1561.8,2025.4 1563.7,2021 1564.9,2019.8 1566.2,2025.4 1568.1,2035.5 1571.2,2040.6 1575.6,2044.3 1580.1,2048.8 1583.2,2045.6 1585.1,2045 1588.3,2049.4 1592,2048.1 1596.4,2048.1 1600.9,2048.8 1607.8,2050.6 1609.7,2056.9 1611.6,2058.8 1614.7,2055.7 1617.2,2058.2 1618.5,2075.9 1619.8,2101.1 1621,2111.8 1626.1,2112.4 1629.2,2111.2 1630.5,2120 1631.7,2132.6 1633,2140.2 1636.2,2143.9 1638.7,2149 1640.6,2151.5 1642.5,2149 1645,2148.3 1647.5,2154 1649.4,2155.3 1652.5,2154 1654.4,2138.9 1655.7,2120 1657.6,2111.2 1660.1,2108.4 1663.9,2109.3 1666.4,2113.7 1668.3,2107.4 1670.2,2103 1672.7,2106.1 1675.2,2111.2 1676.5,2138.9 1677.8,2157.8 1679.7,2170.4 1682.2,2176.7 1685.3,2172.9 1689.1,2166.6 1691,2161.6 1692.3,2151.5 1693.5,2138.9 1695.4,2136.4 1697.9,2136.4 1699.8,2145.2 1701.7,2154"/>
<polyline class="c" clip-path="url(#cp4)" stroke="#DBAF28" points="308.2,2146.4 312.6,2148.9 314.5,2156.5 317,2165.3 320.2,2176.7 324.6,2182.3 327.1,2179.2 329.6,2177.3 332.1,2180.5 333.4,2191.8 335.3,2201.9 337.8,2206.9 342.9,2194.3 344.1,2184.2 347.3,2177.9 350.4,2180.5 354.2,2182.3 357.4,2176.7 359.3,2174.8 361.8,2179.2 365.6,2176.7 370.6,2172.9 374.4,2171.6 376.9,2156.5 381.3,2150.8 385.7,2154.6 389.5,2154.6 392.7,2148.9 396.4,2156.5 400.9,2154 403.4,2142.6 407.2,2138.2 411.6,2136.3 416,2142.6 421,2145.8 427.3,2148.9 431.1,2157.8 434.9,2161.5 438,2161.5 441.8,2157.8 447.5,2159 451.3,2157.1 456.3,2154 461.4,2151.5 465.2,2146.4 467.7,2131.3 469.6,2119.9 471.5,2113.6 475.9,2111.7 480.3,2112.4 484.7,2108.6 487.8,2116.2 491,2123.7 494.8,2118.7 499.2,2119.9 503,2108.6 506.1,2098.5 510.5,2099.8 515.6,2096 520,2089.7 522,2091 524.4,2081 529,2079.4 536,2080.6 544,2081.4 551,2081.4 557,2080 563,2079 570,2079.4 574,2080 582,2078.6 590,2079 600,2080 614,2081 623,2082 628,2080.6 634,2081 642,2082 648,2082.6 653,2079 658,2079.4 666,2081 680,2081.6 694,2082.4 710,2084 730,2086 750,2088 770,2090 786,2091.4 793,2092 800,2090.6 810,2091 826,2092.4 842,2094 859,2095 871,2095.6 883,2096 895,2096.6 907,2097 917,2097.4 925,2096.6 939,2097.6 949,2097 963,2097.6 977,2098.4 989,2098.4 1003,2099 1019,2100.4 1035,2100.6 1049,2101 1061,2101.6 1069,2102 1076,2101.4 1081,2098.6 1089,2096.6 1097,2096 1105,2096.6 1119,2098 1129,2099 1136,2099.4 1141,2095.6 1146,2093.6 1153,2094.4 1163,2096 1173,2097.4 1179,2098.4 1185,2097.4 1192,2096.6 1197,2094.6 1203,2095 1208,2095.4 1220,2096.6 1234,2099 1247,2100.4 1251,2099.4 1255,2096 1264,2098 1276,2100 1288,2101.4 1296,2101.6 1300,2100 1307,2099 1312,2095 1317,2093 1326,2094.4 1334,2095.6 1342,2094 1350,2094.4 1353,2093.6 1357,2090 1364,2091.4 1368,2089 1372,2083 1376,2080 1379.4,2076 1384,2078 1392,2080.4 1404,2080.4 1413,2082 1418,2086 1425,2090 1430,2094.4 1434,2097.4 1440,2100.4 1448,2103 1455,2106 1461,2102 1467,2099.4 1470,2094 1474,2091.4 1478,2093 1484,2097.4 1490,2100 1496,2099.4 1502,2101.4 1508,2102.4 1516,2100.4 1524,2098 1530,2096.6 1534,2097 1538,2101.4 1543,2106 1550,2108 1554,2113.6 1557,2114 1560.5,2114.9 1563,2117.5 1565.6,2123.8 1568.7,2126.3 1575.6,2123.8 1578.8,2120 1583.2,2126.3 1587,2132.6 1592,2134.5 1595.8,2133.9 1599.6,2130.1 1602.1,2120 1604,2113.7 1607.2,2114.9 1610.3,2117.5 1614.1,2114.9 1617.9,2111.8 1622.3,2114.9 1627.3,2118.7 1632.4,2122.5 1636.8,2128.2 1638.7,2133.9 1640.6,2138.9 1643.7,2140.8 1648.8,2139.5 1652.5,2138.9 1654.4,2126.3 1656.3,2118.7 1659.5,2117.5 1662.6,2122.5 1665.2,2132.6 1667,2139.5 1668.9,2126.3 1670.8,2111.2 1672.7,2126.3 1674.6,2137.6 1678.4,2138.9 1680.3,2126.3 1682.2,2101.1 1684.1,2075.9 1686,2056.9 1687.8,2045.6 1690.4,2043.1 1692.3,2050.6 1694.2,2063.3 1696.7,2075.9 1699.2,2088.5 1701.7,2106.1"/>
<polyline class="c" clip-path="url(#cp4)" stroke="#1D6CBD" points="308.8,2172.9 312.6,2170.4 316.4,2172.9 320.8,2172.3 324.6,2173.5 328.4,2164.1 332.1,2169.1 335.3,2166.6 340.3,2156.5 343.5,2155.2 347.3,2165.3 350.4,2160.3 354.8,2158.4 358.6,2166.6 362.4,2160.3 364.3,2169.1 366.8,2181.7 370,2193.1 373.1,2186.8 377.5,2188.6 379.4,2200.6 381.3,2214.5 384.5,2219.5 388.9,2215.8 392,2223.3 396.4,2220.8 399.6,2232.1 403.4,2238.4 407.8,2243.3 410.9,2239.5 416.6,2233.8 418.5,2219.3 419.8,2210.5 422.9,2208 427.3,2212.4 431.1,2208.6 434.9,2207.4 438,2216.8 442.5,2228.2 446.2,2238.3 450,2245.8 454.4,2250.2 461.4,2253.4 463.9,2263.5 466.4,2276.1 468.9,2288.7 471.5,2301.3 474,2308.9 475.9,2312 479,2305.1 482.8,2300.7 487.2,2298.1 491,2298.5 495.4,2296.2 498.9,2294.4 501.1,2301.3 502.3,2310.7 505.5,2308.2 509.3,2309.5 513.1,2313.3 516.8,2317.7 520,2318.9 522,2318 525,2327 529,2333 534,2335 540,2337 548,2337.4 552,2335 555,2331.4 559,2332 564,2331 570,2331.4 578,2331 584,2329.4 589,2325.4 594,2325.4 597,2330 601,2329.4 605,2331 609,2337 614,2332.6 619,2331.4 624,2332.6 630,2331.6 638,2330.6 646,2329 652,2326 657,2323.4 661,2324 665,2322.6 669,2324.6 673,2332 676,2325.6 680,2324.6 682,2333 684,2339 687,2342 694,2341.6 702,2341.4 707,2337 710,2336 714,2340 718,2339 725,2342.6 732,2343 738,2342 742,2338 744.4,2333.4 747,2338 752,2341 760,2340 765,2337 770,2338 776,2337.6 782,2344 790,2344.6 800,2345.4 810,2346 822,2346.4 834,2347.4 846,2347.4 852,2344 857,2343 859,2346 863,2347 869,2346.4 876,2348.4 885,2347.4 892,2345 896,2344 901,2345 907,2348.6 917,2349.4 928,2349 934,2346 940,2345.6 947,2347 959,2347 964,2349 970,2346 976,2348 985,2347 995,2346.6 1004,2348 1009,2347 1016,2347.6 1023,2346 1028,2347 1032,2344 1039,2346 1047,2346 1057,2345 1067,2344 1074,2343 1077.4,2344 1080.6,2350 1084,2351 1091,2347 1096,2348 1100,2345 1104,2344 1111,2345 1119,2343.6 1123,2345 1127,2348.6 1131,2350.4 1138,2349 1145,2347 1155,2346 1165,2345 1173,2345 1179,2346.4 1187,2345.6 1195,2348 1201,2350 1208,2350.6 1216,2349 1224,2347.4 1236,2346.6 1248,2345 1258,2343.6 1270,2342.6 1284,2341.4 1293,2342.6 1302,2341.6 1316,2341 1326,2342.4 1336,2342 1348,2340.6 1355,2340 1362,2342.6 1372,2342.6 1382,2341.4 1392,2339.4 1402,2337 1409,2338 1416,2336.6 1422,2334.4 1428,2331 1434,2327.4 1440,2324 1448,2321 1456,2318 1462,2314 1468,2309.4 1476,2307 1484,2304.6 1492,2302 1497,2299.4 1501,2296 1505,2297 1508,2301.4 1511,2299 1515,2293 1519,2281 1521,2265 1523,2245 1526,2221 1528.6,2205 1530.4,2203.6 1535,2204.4 1539,2207 1541.6,2201 1544,2202 1546,2209 1548,2185 1549.6,2165 1553,2157 1555,2135 1557,2119 1560.5,2122.5 1562.4,2126.3 1564.9,2134.5 1566.8,2123.8 1568.7,2113.7 1572.5,2106.1 1576.9,2098.6 1579.4,2085.9 1581.9,2073.3 1583.8,2063.3 1587,2055.7 1591.4,2048.1 1593.3,2035.5 1595.2,2025.4 1597.1,2030.5 1600.2,2040.6 1602.1,2050.6 1603.4,2056.9 1604.6,2049.4 1606.5,2041.8 1610.9,2042.4 1612.8,2031.7 1614.1,2028.6 1617.2,2031.7 1619.1,2028 1621,2023.5 1622.9,2031.7 1624.8,2041.8 1626.7,2049.4 1629.2,2050.6 1630.5,2031.7 1631.7,2012.8 1633,2004 1634.9,2010.3 1637.4,2019.1 1641.2,2030.5 1644.4,2035.5 1647.5,2028 1650,2021.6 1651.9,2017.9 1653.2,2025.4 1655.1,2038 1657,2050.6 1658.9,2063.3 1660.1,2072.1 1661.4,2063.3 1663.3,2038 1664.5,2012.8 1665.8,1993.9 1667,1987.6 1668.3,1991.4 1669.6,2012.8 1670.2,2038 1670.8,2050.6 1672.7,2044.3 1675.2,2038 1679,2040.6 1684.1,2045.6 1687.8,2046.9 1689.7,2044.3 1692.3,2049.4 1695.4,2056.9 1698.6,2063.3 1701.7,2068.3"/>
<polyline class="c" clip-path="url(#cp4)" stroke="#A8C4CE" points="309.5,2161.5 312,2150.2 314.5,2138.9 317,2133.2 320.8,2137.6 324,2133.2 327.7,2138.9 332.1,2134.4 335.3,2142.6 337.2,2150.2 338.5,2169.1 339.7,2188 341.6,2206.9 344.1,2219.5 347.3,2225.8 349.8,2217 352.3,2205.7 354.8,2198.7 359.3,2201.9 361.8,2210.7 365.6,2222.1 370,2228.4 373.8,2222.1 376.3,2228.4 379.4,2231.5 382.6,2230.9 386.4,2225.8 389.5,2226.5 392,2233.2 394.6,2244.6 397.1,2257.2 400.9,2268.5 404,2272.9 407.2,2267.2 410.9,2256.5 415.4,2254.6 417.2,2260.9 419.1,2268.5 422.9,2266.6 426.1,2257.2 427.3,2257.2 429.9,2267.2 432.4,2274.8 434.9,2279.2 438,2276.1 439.9,2286.2 441.8,2295 445,2292.5 449.4,2289.9 453.8,2295 457.6,2300.7 461.4,2311.4 465.2,2321.5 468.3,2326.5 471.5,2327.1 476.5,2326.5 480.3,2325.2 483.4,2320.2 487.8,2321.5 491.6,2322.1 494.8,2313.3 496.7,2318.9 498.9,2324.6 503,2322.7 506.1,2317 509.3,2320.2 513.1,2329 516.8,2332.2 520,2332.8 522,2333.4 530,2335 540,2336 550,2336 562,2336.6 580,2336.4 610,2336 650,2336 690,2335.6 730,2335 770,2334.4 810,2334.4 859,2334.4 919,2334 979,2333.6 1039,2333.4 1099,2333 1129,2333 1139,2333.6 1179,2334 1208,2333 1220,2332.4 1234,2332 1246,2332.4 1256,2334.4 1268,2334 1280,2333 1292,2332 1302,2333 1312,2331.6 1320,2330 1328,2329.4 1334,2330 1341,2333.4 1348,2334 1356,2333 1362,2331 1367,2328.6 1371,2328 1375,2331 1379.4,2334 1384,2332.6 1392,2329.6 1400,2329 1406,2326 1410,2323 1413,2320.4 1417,2322 1420,2328 1423,2329 1428,2327.4 1434,2327.4 1440,2328 1446,2326.4 1451,2324 1454,2318 1457,2305 1459,2300 1461,2305 1464,2315 1467,2320 1469,2313 1471,2306.4 1475,2305 1480,2306.6 1486,2310 1490,2308 1492,2293 1495,2281 1497.4,2277 1500.4,2279 1502.4,2272 1504.6,2268.4 1508,2275 1510,2287 1513,2303 1516,2312 1520,2311 1524,2312 1527.6,2314 1531,2309 1534,2296 1538,2294 1542,2300 1546,2295 1548,2277 1550,2265 1552.4,2255 1554,2235 1555,2215 1557,2203 1559.3,2199.4 1561.8,2194.4 1564.9,2191.8 1566.2,2164.1 1568.1,2145.2 1570,2132.6 1571.9,2126.3 1574.4,2130.1 1576.9,2132.6 1580.1,2132.6 1581.9,2120 1583.8,2101.1 1585.7,2088.5 1587.6,2087.2 1588.9,2094.8 1590.1,2107.4 1591.4,2120 1592.7,2128.8 1595.2,2130.7 1598.3,2127.5 1600.9,2120 1603.4,2107.4 1605.9,2094.8 1608.4,2084.7 1612.2,2074.6 1616,2063.3 1618.5,2050.6 1621,2038 1622.9,2028 1624.8,2022.3 1629.2,2020.4 1631.1,2028 1633,2038 1634.9,2053.2 1636.8,2069.6 1638.7,2083.4 1640.6,2090.4 1643.1,2085.9 1645.6,2078.4 1647.5,2068.3 1649.4,2056.9 1650.7,2046.9 1652.5,2046.2 1653.8,2060.7 1655.3,2075.2 1657.6,2069.6 1659.5,2059.5 1661.4,2044.3 1663.3,2025.4 1665.2,2006.5 1666.4,1996.4 1668.3,2000.2 1669.6,2019.1 1670.8,2034.3 1673.3,2021.6 1675.2,2022.9 1676.5,2038 1677.8,2056.9 1680.3,2055.7 1682.8,2050.6 1685.3,2040.6 1687.8,2031.7 1690.4,2029.8 1694.2,2029.8 1697.3,2038 1698.6,2050.6 1699.8,2069.6 1701.1,2088.5"/>
</g>
<text class="lg" fill="#1b1b1b" transform="translate(325.40 44.95)">Observed Salinity</text>
<text class="lg" fill="#1b1b1b" transform="translate(325.20 104.20)">Modeled Salinity</text>
<text class="lg" fill="#1b1b1b" transform="translate(1425.40 43.10)">Observed Temp</text>
<text class="lg" fill="#1b1b1b" transform="translate(1425.20 107.40)">Modeled Temp</text>
<text class="tt" fill="#1b1b1b" transform="translate(874.70 103.80) scale(1 1.05)">JALD1</text>
<text class="pl" fill="#1b1b1b" transform="translate(187.30 225.10)">(a)</text>
<text class="tl" fill="#B9611F" transform="translate(79.00 185.90) scale(1 1.045)">40</text>
<text class="tl" fill="#B9611F" transform="translate(79.00 402.70) scale(1 1.045)">20</text>
<text class="tl" fill="#B9611F" transform="translate(110.00 619.50) scale(1 1.045)">0</text>
<text class="tl" fill="#1D6CBD" transform="translate(1915.70 185.90) scale(1 1.045)">10</text>
<text class="tl" fill="#1D6CBD" transform="translate(1914.30 329.90) scale(1 1.045)">5</text>
<text class="tl" fill="#1D6CBD" transform="translate(1913.90 474.90) scale(1 1.045)">0</text>
<text class="tl" fill="#1D6CBD" transform="translate(1915.10 619.00) scale(1 1.045)">-5</text>
<text class="yl" fill="#B9611F" transform="translate(52.00 483.40) rotate(-90)">Salinity</text>
<text class="yl" fill="#1D6CBD" transform="translate(2055.70 524.20) rotate(-90)">Temp (°C)</text>
<text class="tt" fill="#1b1b1b" transform="translate(903.60 747.80) scale(1 1.05)">JALD2</text>
<text class="pl" fill="#1b1b1b" transform="translate(183.30 830.00)">(b)</text>
<text class="tl" fill="#B9611F" transform="translate(79.00 845.40) scale(1 1.045)">40</text>
<text class="tl" fill="#B9611F" transform="translate(79.00 983.60) scale(1 1.045)">30</text>
<text class="tl" fill="#B9611F" transform="translate(79.00 1121.40) scale(1 1.045)">20</text>
<text class="tl" fill="#1D6CBD" transform="translate(1915.70 788.90) scale(1 1.045)">10</text>
<text class="tl" fill="#1D6CBD" transform="translate(1914.30 933.00) scale(1 1.045)">5</text>
<text class="tl" fill="#1D6CBD" transform="translate(1913.90 1078.00) scale(1 1.045)">0</text>
<text class="tl" fill="#1D6CBD" transform="translate(1915.10 1222.10) scale(1 1.045)">-5</text>
<text class="yl" fill="#B9611F" transform="translate(52.00 1086.45) rotate(-90)">Salinity</text>
<text class="yl" fill="#1D6CBD" transform="translate(2055.70 1127.25) rotate(-90)">Temp (°C)</text>
<text class="tt" fill="#1b1b1b" transform="translate(904.80 1348.20) scale(1 1.05)">KALD1</text>
<text class="pl" fill="#1b1b1b" transform="translate(182.10 1436.60)">(c)</text>
<text class="tl" fill="#B9611F" transform="translate(79.00 1389.70) scale(1 1.045)">40</text>
<text class="tl" fill="#B9611F" transform="translate(79.00 1606.50) scale(1 1.045)">20</text>
<text class="tl" fill="#B9611F" transform="translate(110.00 1823.30) scale(1 1.045)">0</text>
<text class="tl" fill="#1D6CBD" transform="translate(1915.70 1443.90) scale(1 1.045)">10</text>
<text class="tl" fill="#1D6CBD" transform="translate(1914.30 1578.90) scale(1 1.045)">5</text>
<text class="tl" fill="#1D6CBD" transform="translate(1913.90 1714.90) scale(1 1.045)">0</text>
<text class="yl" fill="#B9611F" transform="translate(52.00 1687.20) rotate(-90)">Salinity</text>
<text class="yl" fill="#1D6CBD" transform="translate(2055.70 1728.00) rotate(-90)">Temp (°C)</text>
<text class="tt" fill="#1b1b1b" transform="translate(910.20 1951.20) scale(1 1.05)">KALD2</text>
<text class="pl" fill="#1b1b1b" transform="translate(174.10 2030.90)">(d)</text>
<text class="tl" fill="#B9611F" transform="translate(79.00 1992.60) scale(1 1.045)">40</text>
<text class="tl" fill="#B9611F" transform="translate(79.00 2208.25) scale(1 1.045)">20</text>
<text class="tl" fill="#B9611F" transform="translate(110.00 2423.90) scale(1 1.045)">0</text>
<text class="tl" fill="#1D6CBD" transform="translate(1915.70 2046.50) scale(1 1.045)">10</text>
<text class="tl" fill="#1D6CBD" transform="translate(1914.30 2180.80) scale(1 1.045)">5</text>
<text class="tl" fill="#1D6CBD" transform="translate(1913.90 2316.10) scale(1 1.045)">0</text>
<text class="yl" fill="#B9611F" transform="translate(52.00 2288.95) rotate(-90)">Salinity</text>
<text class="yl" fill="#1D6CBD" transform="translate(2055.70 2329.75) rotate(-90)">Temp (°C)</text>
<text class="xl" fill="#000" transform="translate(56.05 2479.90) scale(1 1.045)">Jul 2018</text>
<text class="xl" fill="#000" transform="translate(394.65 2479.90) scale(1 1.045)">Oct 2018</text>
<text class="xl" fill="#000" transform="translate(741.95 2479.90) scale(1 1.045)">Jan 2019</text>
<text class="xl" fill="#000" transform="translate(1085.80 2479.90) scale(1 1.045)">Apr 2019</text>
<text class="xl" fill="#000" transform="translate(1436.20 2479.90) scale(1 1.045)">Jul 2019</text>
<text class="xl" fill="#000" transform="translate(1774.45 2479.90) scale(1 1.045)">Oct 2019</text>
</svg></body></html>
